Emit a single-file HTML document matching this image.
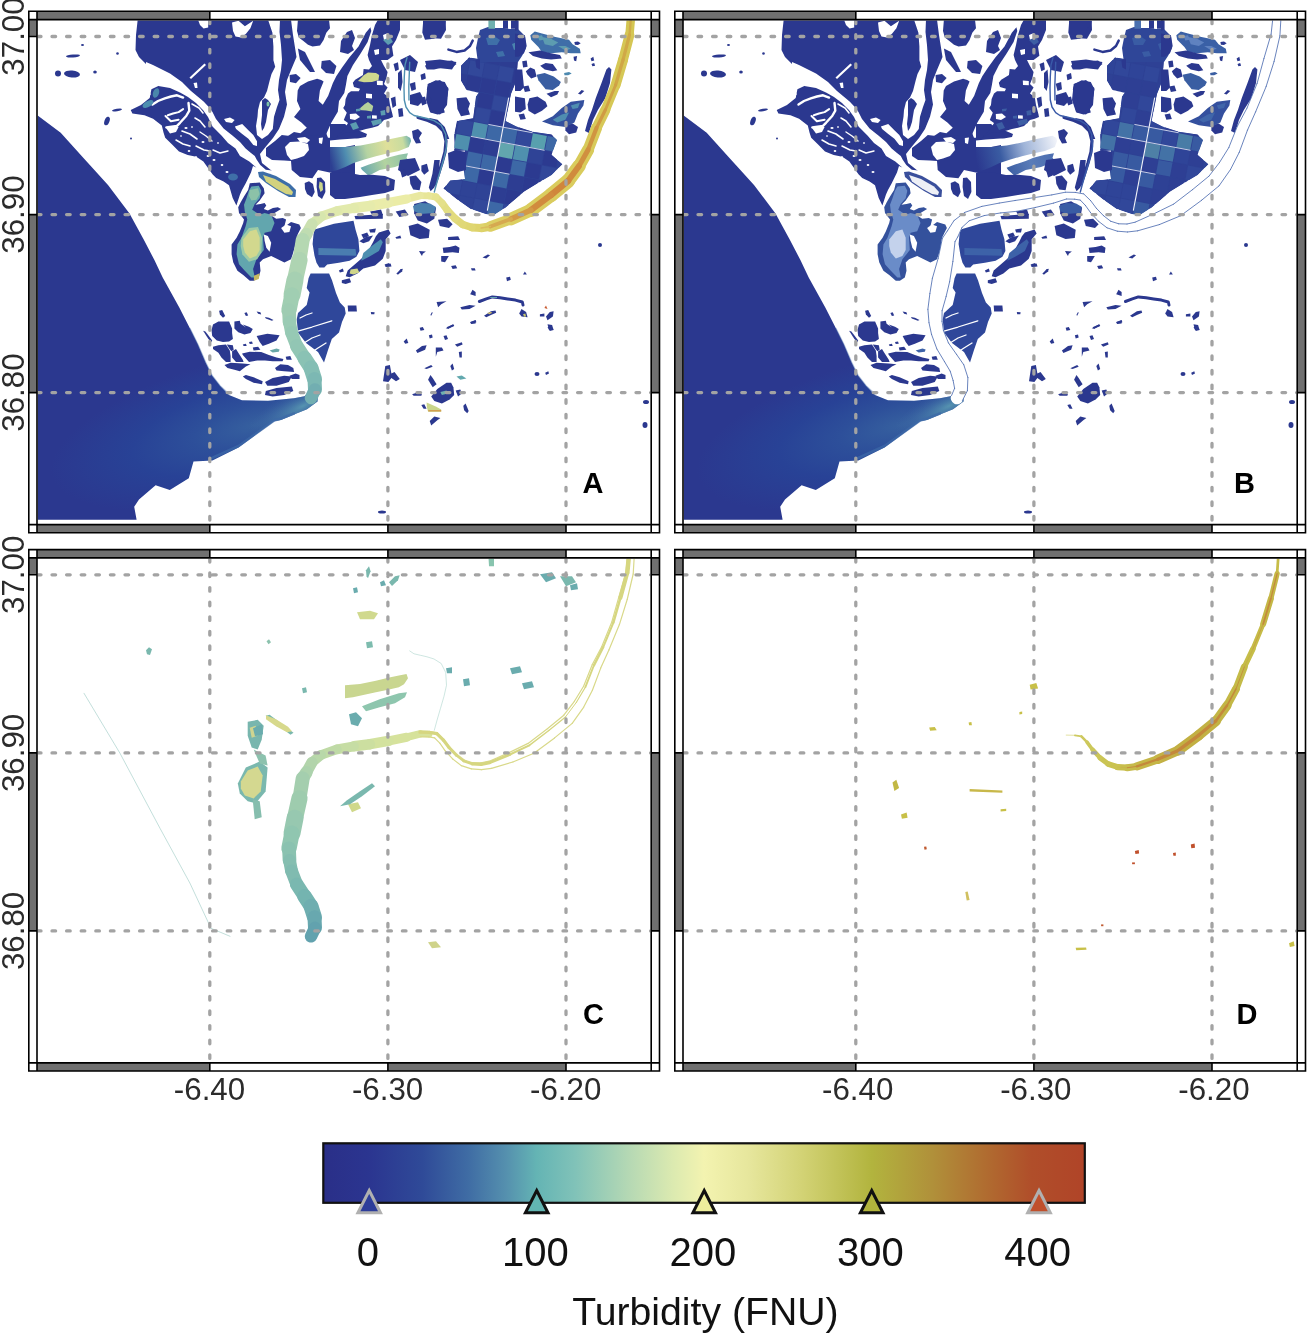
<!DOCTYPE html>
<html><head><meta charset="utf-8"><title>Turbidity maps</title>
<style>
html,body{margin:0;padding:0;background:#fff;width:1307px;height:1333px;overflow:hidden}
svg{display:block}
text{filter:grayscale(1)}
.ax{font-family:"Liberation Sans",sans-serif;font-size:31.3px;fill:#2b2b2b}
.pl{font-family:"Liberation Sans",sans-serif;font-size:29px;font-weight:bold;fill:#000}
.cbt{font-family:"Liberation Sans",sans-serif;font-size:40px;fill:#111}
</style></head><body>
<svg width="1307" height="1333" viewBox="0 0 1307 1333">
<defs>
<clipPath id="clip0_0"><rect x="37.8" y="20.4" width="612.6" height="503.4"/></clipPath>
<clipPath id="clip646_0"><rect x="683.8" y="20.4" width="612.6" height="503.4"/></clipPath>
<clipPath id="clip0_538"><rect x="37.8" y="558.7" width="612.6" height="503.4"/></clipPath>
<clipPath id="clip646_538"><rect x="683.8" y="558.7" width="612.6" height="503.4"/></clipPath>
<clipPath id="saltclip"><path d="M461.0 65.7L469.0 57.6L478.6 59.0L489.4 61.6L505.6 60.3L517.8 61.6L516.4 80.5L511.0 94.0L505.6 121.0L516.4 126.4L532.6 131.8L551.5 134.5L557.0 140.0L551.5 154.8L562.3 164.2L551.5 175.0L538.0 183.0L524.5 191.2L505.6 207.4L494.8 214.2L486.7 214.2L470.5 208.8L457.0 199.3L443.5 188.5L450.3 180.4L465.0 179.0L463.0 165.0L465.0 150.7L454.3 150.7L454.3 134.5L457.0 121.0L473.2 118.3L476.0 96.7L478.6 92.7L466.5 90.0L461.0 80.5Z"/></clipPath><linearGradient id="lstripA" gradientUnits="userSpaceOnUse" x1="330" y1="160" x2="411" y2="140"><stop offset="0" stop-color="#2d3f92"/><stop offset="0.2" stop-color="#4f8db0"/><stop offset="0.45" stop-color="#b4d3a2"/><stop offset="0.7" stop-color="#dfe09a"/><stop offset="0.9" stop-color="#c8dca0"/><stop offset="1" stop-color="#6fb0b0"/></linearGradient><linearGradient id="lstripB" gradientUnits="userSpaceOnUse" x1="330" y1="160" x2="411" y2="140"><stop offset="0" stop-color="#2b388f"/><stop offset="0.3" stop-color="#3a5ca2"/><stop offset="0.6" stop-color="#9fb4d8"/><stop offset="1" stop-color="#f2f4fa"/></linearGradient><linearGradient id="ls2A" gradientUnits="userSpaceOnUse" x1="360" y1="172" x2="410" y2="155"><stop offset="0" stop-color="#5fa2b0"/><stop offset="0.5" stop-color="#b3d3a0"/><stop offset="1" stop-color="#88c0a8"/></linearGradient><linearGradient id="ls2B" gradientUnits="userSpaceOnUse" x1="360" y1="172" x2="410" y2="155"><stop offset="0" stop-color="#3a5ca2"/><stop offset="0.5" stop-color="#5a7cb8"/><stop offset="1" stop-color="#4a6cb0"/></linearGradient><radialGradient id="plumeA" cx="0" cy="0" r="1" gradientUnits="userSpaceOnUse" gradientTransform="translate(255 425) rotate(-14) scale(210 72)"><stop offset="0" stop-color="#36609f"/><stop offset="0.3" stop-color="#2d4f9a"/><stop offset="0.6" stop-color="#284296"/><stop offset="1" stop-color="#2b388f"/></radialGradient><radialGradient id="plumeB" cx="0" cy="0" r="1" gradientUnits="userSpaceOnUse" gradientTransform="translate(255 425) rotate(-14) scale(210 72)"><stop offset="0" stop-color="#36609f"/><stop offset="0.3" stop-color="#2d4f9a"/><stop offset="0.6" stop-color="#284296"/><stop offset="1" stop-color="#2b388f"/></radialGradient><radialGradient id="mouth" cx="0" cy="0" r="1" gradientUnits="userSpaceOnUse" gradientTransform="translate(303 406) rotate(-25) scale(60 18)"><stop offset="0" stop-color="#5a9ab2" stop-opacity="0.9"/><stop offset="0.5" stop-color="#4a80ac" stop-opacity="0.45"/><stop offset="1" stop-color="#3a62a4" stop-opacity="0"/></radialGradient>
</defs>
<g clip-path="url(#clip0_0)"><g transform="translate(0 0)"><path d="M37.0 115.0L60.7 132.8L84.4 159.0L108.0 185.0L129.5 213.5L143.7 239.6L154.4 260.0L162.7 277.5L179.3 307.4L190.0 328.6L197.8 344.2L205.6 362.4L212.0 375.4L220.0 385.8L229.0 395.0L242.0 400.2L268.0 400.8L294.0 398.2L304.5 396.3L309.0 392.0L318.0 394.0L317.5 401.5L307.0 409.3L294.0 414.5L281.0 420.0L274.2 421.3L238.6 447.4L212.5 460.4L193.5 461.6L188.8 478.2L169.8 490.0L155.6 485.3L139.0 499.6L134.2 506.7L136.6 519.7L37.0 519.7Z" fill="url(#plumeA)"/>
<path d="M37.0 115.0L60.7 132.8L84.4 159.0L108.0 185.0L129.5 213.5L143.7 239.6L154.4 260.0L162.7 277.5L179.3 307.4L190.0 328.6L197.8 344.2L205.6 362.4L212.0 375.4L220.0 385.8L229.0 395.0L242.0 400.2L268.0 400.8L294.0 398.2L304.5 396.3L309.0 392.0L318.0 394.0L317.5 401.5L307.0 409.3L294.0 414.5L281.0 420.0L274.2 421.3L238.6 447.4L212.5 460.4L193.5 461.6L188.8 478.2L169.8 490.0L155.6 485.3L139.0 499.6L134.2 506.7L136.6 519.7L37.0 519.7Z" fill="url(#mouth)"/>
<path d="M190.0 328.6L197.8 344.2L205.6 362.4L212.0 375.4L220.0 385.8L229.0 394.0" fill="none" stroke="#3a62a4" stroke-width="1.4" stroke-linecap="round" stroke-linejoin="round" opacity="0.4"/>
<path d="M212.0 458.0L238.6 446.0L274.2 420.5L281.0 418.5L294.0 413.5" fill="none" stroke="#3d6aa8" stroke-width="2.5" stroke-linecap="round" stroke-linejoin="round" opacity="0.7"/>
<path d="M137.7 19.6L291.0 19.6L293.0 35.0L296.5 57.0L291.0 70.0L287.0 80.0L285.0 92.0L287.0 104.5L284.0 116.7L279.0 129.0L273.0 138.0L265.5 147.0L260.0 154.0L262.0 163.0L272.0 171.0L271.0 174.5L262.0 170.0L253.0 166.0L251.0 172.4L245.6 183.5L242.0 190.0L240.0 194.5L236.4 205.5L232.7 198.0L229.0 185.3L223.6 181.6L216.2 178.0L212.5 174.3L203.4 161.4L196.3 156.7L187.7 155.0L179.0 151.5L172.1 144.6L165.2 137.7L163.5 132.5L161.8 125.6L153.1 118.7L144.5 115.2L132.4 113.5L130.7 110.0L141.0 104.9L149.7 98.0L151.4 89.3L158.3 85.9L160.0 78.0L153.0 68.6L146.0 64.0L139.0 57.0L135.5 50.0L136.0 35.0Z" fill="#2b388f"/>
<path d="M146.0 62.0L153.0 65.0L170.0 73.5L182.0 82.0L191.0 91.0L203.6 101.6L209.0 107.2L212.5 112.0L216.0 119.0L223.6 128.4L232.7 135.7L240.0 142.0L245.6 148.6L251.0 153.0L254.8 156.0L256.6 159.6L260.3 165.0L265.8 169.7L272.2 170.6L272.0 174.0L259.4 173.4L255.7 167.0L249.3 161.4L240.0 156.0L235.5 148.6L228.0 143.0L221.7 135.7L212.5 126.5L208.0 117.0L203.0 110.0L196.0 103.0L188.0 97.0L180.0 92.5L170.0 88.0L158.3 85.9L150.0 80.0L146.0 70.0Z" fill="#fff"/>
<path d="M268.0 19.6L272.4 32.8L273.4 46.5L273.4 60.3L275.2 66.7L271.5 74.1L269.8 80.0L267.0 91.0L264.0 97.6L260.0 102.0L258.0 110.0L257.5 116.7L256.0 126.0L257.0 135.0L262.0 139.0L268.0 135.0L272.8 129.0L274.0 116.7L277.0 107.0L279.5 100.0L278.0 90.0L279.0 80.0L281.0 70.0L282.0 60.0L281.0 45.0L279.5 32.0L280.0 19.6Z" fill="#fff"/>
<path d="M262.0 100.5L265.0 98.0L268.0 100.0L271.0 104.0L268.0 110.0L267.0 116.0L266.0 122.0L264.0 128.0L262.0 131.0L261.0 124.0L262.0 115.0L262.0 107.0Z" fill="#2b388f"/>
<path d="M234.9 126.5L242.2 124.0L248.4 130.2L253.3 135.0L257.0 141.2L257.0 146.1L253.3 144.9L248.4 138.8L242.2 133.9L236.1 129.0Z" fill="#fff"/>
<path d="M198.0 19.6L208.2 19.6L208.2 27.6L203.6 28.5L200.0 25.0Z" fill="#fff"/>
<path d="M232.0 22.5L238.5 20.8L244.9 26.3L253.2 20.8L250.4 28.2L246.0 33.7L241.0 37.4L235.5 36.5L233.0 31.0Z" fill="#fff"/>
<path d="M204.5 63.5L206.0 65.0L191.0 79.0L189.5 77.5Z" fill="#fff"/>
<path d="M193.5 83.0L197.0 82.5L197.5 88.0L195.0 88.0Z" fill="#fff"/>
<path d="M224.0 119.0L230.0 117.5L234.6 120.0L232.0 123.0L226.0 122.0Z" fill="#fff"/>
<path d="M152.5 104.5L158.0 101.0L164.8 98.4L171.0 96.5L177.0 95.3L183.1 97.6" fill="none" stroke="#fff" stroke-width="2.4" stroke-linecap="round" stroke-linejoin="round"/>
<path d="M167.8 115.2L173.0 113.5L178.6 112.1L183.1 109.1" fill="none" stroke="#fff" stroke-width="2.0" stroke-linecap="round" stroke-linejoin="round"/>
<path d="M165.5 116.0L170.9 121.3L178.6 119.8" fill="none" stroke="#fff" stroke-width="2.0" stroke-linecap="round" stroke-linejoin="round"/>
<path d="M188.5 103.0L189.3 110.6L186.2 116.0L180.0 122.8L177.0 125.9L166.3 127.4" fill="none" stroke="#fff" stroke-width="2.4" stroke-linecap="round" stroke-linejoin="round"/>
<path d="M192.0 104.0L199.0 108.0L203.0 113.0" fill="none" stroke="#fff" stroke-width="1.6" stroke-linecap="round" stroke-linejoin="round"/>
<path d="M141.0 103.0L146.0 99.0L150.0 94.0" fill="none" stroke="#fff" stroke-width="1.5" stroke-linecap="round" stroke-linejoin="round"/>
<path d="M195.0 118.0L200.0 121.0L205.0 127.0" fill="none" stroke="#fff" stroke-width="1.6" stroke-linecap="round" stroke-linejoin="round"/>
<path d="M182.0 131.0L190.0 134.0L197.0 139.0" fill="none" stroke="#fff" stroke-width="1.6" stroke-linecap="round" stroke-linejoin="round"/>
<path d="M176.0 140.0L183.0 144.0L190.0 146.0" fill="none" stroke="#fff" stroke-width="1.5" stroke-linecap="round" stroke-linejoin="round"/>
<path d="M196.0 146.0L204.0 150.0L210.0 151.0" fill="none" stroke="#fff" stroke-width="1.5" stroke-linecap="round" stroke-linejoin="round"/>
<path d="M200.0 132.0L206.0 136.0L212.0 141.0" fill="none" stroke="#fff" stroke-width="1.4" stroke-linecap="round" stroke-linejoin="round"/>
<path d="M213.0 150.0L220.0 153.0L228.0 151.0" fill="none" stroke="#fff" stroke-width="1.4" stroke-linecap="round" stroke-linejoin="round"/>
<path d="M166.0 128.0L172.0 126.0L178.6 127.0L176.0 132.0L170.0 133.6Z" fill="#fff"/>
<ellipse cx="186" cy="128" rx="1.6" ry="1" fill="#fff"/>
<ellipse cx="192" cy="127" rx="1.2" ry="0.8" fill="#fff"/>
<ellipse cx="203" cy="142" rx="1.5" ry="1" fill="#fff"/>
<ellipse cx="189" cy="151" rx="1.3" ry="0.9" fill="#fff"/>
<ellipse cx="181" cy="136" rx="1" ry="0.8" fill="#fff"/>
<ellipse cx="208" cy="156" rx="1.4" ry="1" fill="#fff"/>
<ellipse cx="196" cy="157" rx="1.2" ry="0.8" fill="#fff"/>
<ellipse cx="214" cy="160" rx="1.5" ry="1" fill="#fff"/>
<ellipse cx="222" cy="165" rx="1.3" ry="1" fill="#fff"/>
<ellipse cx="227" cy="172" rx="1.5" ry="1" fill="#fff"/>
<ellipse cx="218" cy="143" rx="1.2" ry="0.8" fill="#fff"/>
<ellipse cx="173" cy="131" rx="1" ry="0.8" fill="#fff"/>
<ellipse cx="148" cy="104" rx="6" ry="3" fill="#4d8fb0" transform="rotate(-30 148 104)"/>
<ellipse cx="156" cy="93" rx="3" ry="5" fill="#4a86ab" transform="rotate(20 156 93)"/>
<ellipse cx="233" cy="177" rx="5" ry="3.5" fill="#3f6fa8"/>
<ellipse cx="268" cy="104" rx="1.5" ry="2.5" fill="#7cc0a8"/>
<path d="M297.9 19.6L329.0 19.6L330.0 28.2L326.3 32.8L323.6 40.1L320.0 45.6L312.5 46.5L308.0 44.7L303.4 41.0L298.8 37.4L297.0 31.0Z" fill="#2b388f"/>
<path d="M297.9 48.4L305.0 52.0L315.0 72.0L310.0 72.0L300.0 60.0Z" fill="#2b388f"/>
<path d="M321.7 61.0L330.0 60.0L336.4 66.0L334.0 74.0L326.0 73.0L321.0 68.0Z" fill="#2b388f"/>
<path d="M341.0 41.0L347.0 32.0L352.0 30.0L355.0 38.0L352.0 46.0L354.0 50.0L348.0 54.0L340.0 52.0Z" fill="#2b388f"/>
<path d="M289.6 75.0L296.0 74.0L300.6 78.0L296.0 83.3L290.0 82.0Z" fill="#2b388f"/>
<path d="M370.4 27.3L371.3 30.9L367.6 42.0L360.3 53.9L353.0 64.9L347.4 75.9L345.9 85.0L344.3 93.0L339.0 101.0L337.8 111.8L331.4 122.5L326.6 133.2L325.5 138.6L318.0 140.0L310.0 142.0L300.0 140.0L290.0 143.0L281.0 145.0L283.2 138.6L288.0 135.9L294.0 132.0L300.4 133.2L306.8 127.8L301.4 122.5L294.0 117.0L300.4 109.0L297.0 101.0L297.7 90.4L300.0 86.0L308.0 81.4L317.1 78.7L321.2 80.0L323.6 81.4L319.9 90.6L318.6 101.0L322.8 104.8L328.2 95.7L332.8 83.3L336.4 75.9L341.9 67.7L349.3 57.6L358.5 46.5L365.8 32.8Z" fill="#2b388f"/>
<path d="M330.0 124.0L345.0 124.0L350.0 128.0L360.0 131.0L367.0 134.0L366.0 137.0L355.0 139.0L345.0 140.0L337.0 141.5L330.0 141.5Z" fill="#2b388f"/>
<path d="M378.0 19.6L400.0 19.6L400.0 30.0L396.0 40.0L392.0 46.5L393.4 55.7L387.6 60.0L381.0 60.0L384.0 66.0L387.6 72.0L386.4 78.0L384.0 84.0L387.6 87.6L384.0 93.6L388.8 97.2L390.0 105.0L392.4 114.0L393.0 117.0L388.8 118.8L384.0 120.0L381.0 123.0L378.0 126.0L372.0 127.8L366.0 129.0L360.0 130.8L354.0 132.0L348.0 132.0L345.0 138.0L336.0 140.0L337.8 135.0L342.0 132.0L345.6 127.2L348.0 123.0L343.8 120.0L345.0 117.0L346.8 112.8L343.2 108.0L345.0 105.0L345.6 99.0L348.0 93.6L351.0 91.2L358.8 91.2L360.0 88.8L354.0 87.0L352.8 82.8L355.2 79.8L363.0 75.0L363.6 69.0L369.0 69.6L372.0 66.0L369.0 60.0L367.6 55.0L370.0 45.0L372.0 35.0L375.0 25.0Z" fill="#2b388f"/>
<path d="M366.0 93.6L372.0 94.0L372.0 98.4L366.0 98.0Z" fill="#fff"/>
<path d="M376.8 80.4L382.8 81.0L382.8 85.2L377.0 85.0Z" fill="#fff"/>
<path d="M372.0 115.2L376.8 115.5L376.8 118.8L372.0 118.5Z" fill="#fff"/>
<path d="M349.8 114.0L356.0 113.5L360.0 117.0L355.0 120.0L350.0 119.0Z" fill="#fff"/>
<path d="M383.0 35.0L388.0 33.0L389.0 39.0L384.0 40.0Z" fill="#fff"/>
<path d="M374.0 50.0L379.0 49.0L379.0 54.0L375.0 55.0Z" fill="#fff"/>
<path d="M358.0 81.0L364.0 75.0L368.0 72.5L376.0 73.0L379.2 75.0L378.5 80.0L372.0 82.0L364.0 82.2Z" fill="#cfd98e"/>
<path d="M358.0 110.0L364.8 104.0L368.0 102.0L373.2 106.0L372.0 111.6L366.0 110.5Z" fill="#b5d09a"/>
<path d="M383.0 40.0L390.0 37.0L393.0 42.0L388.0 45.0Z" fill="#5c9db0"/>
<path d="M350.0 124.0L356.0 122.0L359.0 128.0L353.0 130.0Z" fill="#5c9db0"/>
<path d="M371.0 121.0L381.0 118.8L382.0 123.0L373.0 126.0Z" fill="#5c9db0"/>
<path d="M380.4 111.0L385.0 110.0L385.5 115.0L381.0 115.5Z" fill="#5c9db0"/>
<path d="M356.0 109.0L361.0 108.5L360.0 111.0L356.0 111.5Z" fill="#5c9db0"/>
<path d="M367.0 116.0L371.0 115.5L371.0 118.5L367.0 118.5Z" fill="#5c9db0"/>
<path d="M275.0 141.0L281.8 135.0L290.0 136.0L300.0 135.0L312.0 136.0L326.0 133.0L328.0 137.7L336.0 137.7L345.0 133.0L355.0 132.0L355.0 178.0L345.0 178.0L332.0 173.0L318.0 170.0L312.4 178.2L300.0 177.0L291.7 170.0L291.0 161.0L284.0 160.6L272.0 160.0L266.0 156.0L266.0 148.0Z" fill="#2b388f"/>
<path d="M285.0 147.0L290.0 142.0L300.0 141.5L308.0 144.0L309.0 150.0L304.0 156.0L297.0 158.5L291.0 160.0L287.0 155.0Z" fill="#fff"/>
<path d="M297.0 138.0L305.0 137.0L310.0 140.0L307.0 143.0L300.0 142.0Z" fill="#fff"/>
<path d="M318.8 138.0L323.0 137.5L322.0 144.0L319.0 143.0Z" fill="#fff"/>
<path d="M330.0 140.5L340.0 139.5L355.0 138.5L368.0 140.2L366.7 143.0L355.0 145.0L345.3 147.0L330.0 147.5Z" fill="#fff"/>
<path d="M330.0 147.1L345.3 147.1L360.6 145.6L375.9 142.5L388.1 139.5L398.9 137.2L406.5 135.7L410.3 138.0L411.1 141.0L408.8 147.1L398.9 151.0L388.1 153.3L375.9 156.3L364.4 159.4L353.0 163.2L345.3 167.0L337.7 170.1L330.0 171.6Z" fill="url(#lstripA)"/>
<path d="M360.6 167.8L368.3 164.7L379.7 160.9L387.4 157.8L398.9 154.8L408.0 153.3L406.5 157.8L410.3 162.4L402.7 164.0L395.0 167.0L387.4 168.6L379.7 170.1L372.0 173.9L368.3 175.4L362.1 170.1Z" fill="url(#ls2A)"/>
<path d="M330.0 173.0L345.0 172.0L360.0 175.0L372.0 174.7L385.0 176.0L395.0 180.0L394.0 190.0L385.0 193.0L372.0 195.0L360.0 197.0L345.0 199.0L335.0 199.0L330.0 195.0Z" fill="#2b388f"/>
<path d="M258.0 172.0L263.0 171.5L276.0 176.0L290.0 184.0L296.0 190.0L295.5 197.0L289.0 197.0L278.0 191.0L266.0 183.0L259.0 177.0Z" fill="#3d6ea8"/>
<path d="M263.0 175.0L275.0 179.0L288.0 186.5L293.0 192.0L292.0 195.0L286.0 194.0L276.0 188.5L266.0 181.5Z" fill="#d2d27e"/>
<path d="M317.0 178.0L321.0 177.4L325.0 182.0L325.4 192.0L322.0 198.9L318.0 196.0L316.6 187.0Z" fill="#2b388f"/>
<path d="M304.7 183.0L309.0 181.3L313.0 184.0L314.7 192.0L312.0 197.3L307.0 194.0L305.0 189.0Z" fill="#2b388f"/>
<path d="M319.5 181.5L322.5 183.0L323.0 190.0L320.5 192.0L318.8 187.0Z" fill="#c9d58a"/>
<path d="M249.8 183.3L259.7 182.5L263.8 188.3L264.6 193.2L259.7 200.6L255.5 204.8L260.5 203.9L264.6 203.1L266.3 205.6L263.8 208.9L267.9 210.5L272.9 208.1L277.8 207.2L281.1 208.9L274.5 213.0L271.2 215.5L276.2 218.8L282.8 218.0L286.1 219.6L284.4 226.2L281.1 229.5L287.7 224.6L291.0 222.1L299.3 224.6L300.9 227.9L297.6 234.5L296.0 242.7L292.7 254.3L291.0 259.2L284.4 262.5L277.8 259.2L271.2 255.9L263.0 259.2L259.7 262.5L260.5 270.8L258.8 277.4L253.9 280.7L249.8 280.7L243.2 274.9L237.4 270.8L233.3 262.5L231.6 254.3L231.6 244.4L236.6 237.8L239.9 231.2L243.2 222.9L244.0 219.6L239.0 213.0L238.2 207.2L240.7 202.3L244.0 196.5L248.1 189.9Z" fill="#2b388f"/>
<path d="M251.4 186.6L258.8 185.8L261.3 190.7L259.7 198.2L254.7 203.9L252.2 209.7L259.7 214.7L264.6 213.0L271.2 214.7L274.5 222.9L271.2 231.2L264.6 232.8L263.0 237.8L263.8 250.1L260.5 254.3L256.4 259.2L253.1 269.1L254.7 277.4L251.4 277.4L244.8 270.8L239.0 264.2L236.6 254.3L237.4 244.4L241.5 237.8L245.6 226.2L247.3 219.6L244.8 211.4L244.0 204.8L246.5 198.2L248.9 190.7Z" fill="#62a6ae"/>
<path d="M241.5 237.8L248.9 227.9L258.0 227.0L262.1 237.8L261.3 252.6L257.2 259.2L248.9 261.7L242.3 254.3L240.7 246.0Z" fill="#9ccaa6"/>
<path d="M249.8 189.9L258.0 188.3L259.7 194.0L256.4 199.8L251.4 200.6L248.9 195.7Z" fill="#8cc2a8"/>
<path d="M243.2 239.4L249.8 231.2L256.4 229.5L259.7 237.8L259.7 250.1L256.4 255.9L249.8 258.4L244.8 252.6L243.2 246.0Z" fill="#d2d88e"/>
<path d="M253.9 275.7L259.7 273.2L258.8 279.0L253.9 280.7Z" fill="#c8b860"/>
<path d="M263.8 234.5L267.9 236.1L271.2 242.7L269.6 251.8L266.3 247.7L264.6 241.1Z" fill="#fff"/>
<path d="M281.1 227.9L286.1 224.6L291.0 226.2L289.4 232.0L284.4 232.8Z" fill="#fff"/>
<path d="M314.5 229.5L334.0 223.7L353.5 220.7L355.5 229.5L358.4 239.3L359.4 251.0L356.4 256.8L349.6 260.7L338.9 262.7L327.2 264.6L324.3 267.5L319.4 267.5L316.5 262.7L314.5 255.8L312.6 244.1L313.5 234.4Z" fill="#2f479a"/>
<path d="M318.4 248.0L355.5 249.0L356.4 255.8L318.4 254.9Z" fill="#4a7db0"/>
<path d="M378.9 232.4L388.6 229.5L390.6 233.4L385.7 239.3L385.7 251.0L382.8 258.8L375.0 265.6L363.3 268.5L357.4 273.4L349.6 277.3L345.7 276.3L347.7 270.5L353.5 265.6L361.3 258.8L368.1 251.0L373.0 242.2L375.9 236.3Z" fill="#2b388f"/>
<path d="M363.3 252.9L373.0 245.1L380.8 239.3L382.8 242.2L378.9 251.0L369.1 256.8L361.3 260.7Z" fill="#4d8fb0"/>
<path d="M350.6 269.5L357.4 268.5L359.4 272.4L353.5 274.4L349.6 273.4Z" fill="#d0d68a"/>
<path d="M359.4 241.2L365.2 237.3L373.0 235.4L369.1 241.2L363.3 243.2Z" fill="#2b388f"/>
<path d="M361.3 234.4L367.2 232.4L369.1 236.3L363.3 238.3Z" fill="#2b388f"/>
<path d="M369.1 229.5L375.9 228.5L375.0 232.4L370.1 232.4Z" fill="#2b388f"/>
<path d="M341.8 280.2L349.6 278.3L351.1 282.2L345.7 284.1L341.8 283.1Z" fill="#2b388f"/>
<path d="M347.7 305.6L356.4 305.6L356.9 311.4L348.1 311.4Z" fill="#2b388f"/>
<path d="M338.9 270.5L342.8 268.5L343.8 271.4L339.9 272.4Z" fill="#2b388f"/>
<path d="M395.4 237.3L400.3 235.4L401.3 238.3L396.4 238.8Z" fill="#2b388f"/>
<path d="M384.7 265.6L390.6 263.6L391.5 266.6L385.7 267.0Z" fill="#2b388f"/>
<path d="M396.4 273.4L402.3 268.5L402.3 271.4L397.4 274.4Z" fill="#2b388f"/>
<path d="M354.5 215.9L382.8 213.9L382.8 218.8L355.5 219.3Z" fill="#2b388f"/>
<path d="M310.6 273.4L329.1 273.4L332.0 280.2L336.0 292.9L339.9 302.6L344.7 307.5L345.7 313.4L342.0 322.0L339.0 332.5L331.8 339.0L328.0 350.0L324.0 362.4L318.0 352.0L306.0 343.0L298.0 332.5L296.7 319.5L298.0 313.0L306.7 305.0L309.6 292.6L306.7 288.0L308.6 278.0Z" fill="#2f479a"/>
<path d="M298.0 331.0L312.0 327.0L331.8 320.8" fill="none" stroke="#fff" stroke-width="1.3" stroke-linecap="round" stroke-linejoin="round"/>
<path d="M304.0 343.0L312.0 338.0L320.0 335.0" fill="none" stroke="#fff" stroke-width="1.3" stroke-linecap="round" stroke-linejoin="round"/>
<path d="M312.0 352.0L318.0 348.0L326.0 343.0" fill="none" stroke="#fff" stroke-width="1.3" stroke-linecap="round" stroke-linejoin="round"/>
<path d="M300.0 318.0L306.0 315.0L312.0 313.0" fill="none" stroke="#fff" stroke-width="1.3" stroke-linecap="round" stroke-linejoin="round"/>
<path d="M213.0 324.5L218.4 321.5L229.1 321.5L232.1 328.4L232.1 333.0L232.9 339.1L229.1 341.4L223.0 342.1L216.8 340.6L212.2 336.0L211.5 329.9Z" fill="#2b388f"/>
<path d="M234.4 321.5L239.8 320.7L240.6 323.8L245.9 327.6L242.8 324.5L249.0 326.8L252.8 329.1L250.5 333.0L244.4 334.5L238.3 332.2L234.4 328.4Z" fill="#2b388f"/>
<path d="M203.1 330.7L205.4 331.4L212.2 340.6L211.5 342.1L208.4 339.1Z" fill="#2b388f"/>
<path d="M213.0 346.7L218.4 345.2L226.0 344.4L229.8 350.6L230.6 355.9L230.6 362.0L226.0 362.0L221.4 357.4L218.4 352.8L213.0 349.0Z" fill="#2b388f"/>
<path d="M226.8 344.4L232.9 345.2L233.7 349.8L231.4 351.3L229.1 348.3Z" fill="#2b388f"/>
<path d="M232.1 351.3L236.0 349.0L238.3 352.8L242.8 359.7L243.6 362.0L236.0 362.0L232.1 357.4Z" fill="#2b388f"/>
<path d="M242.1 353.6L249.7 351.7L261.2 352.1L268.9 355.1L276.5 357.4L283.4 359.0L282.6 361.3L272.7 361.3L265.0 360.5L257.4 360.5L249.0 362.0L242.8 355.1Z" fill="#2b388f"/>
<path d="M256.6 336.0L267.3 333.7L279.6 335.2L276.5 340.6L268.9 343.7L262.7 346.0L259.7 342.1Z" fill="#2b388f"/>
<path d="M224.5 365.1L230.6 362.8L242.8 363.6L250.5 364.3L245.9 366.6L239.8 371.2L234.4 369.7L227.5 368.1Z" fill="#2b388f"/>
<path d="M242.8 376.6L245.9 375.0L253.6 377.3L262.7 381.2L262.0 384.2L253.6 382.7L245.9 378.9Z" fill="#2b388f"/>
<path d="M265.0 381.9L272.7 378.1L284.2 375.8L291.8 376.6L288.8 381.9L276.5 385.7L267.3 385.7Z" fill="#2b388f"/>
<path d="M265.8 391.1L276.5 388.0L291.8 386.5L293.3 391.1L284.2 394.9L272.7 396.5L265.0 394.9Z" fill="#2b388f"/>
<path d="M275.0 368.1L280.3 364.3L288.0 365.1L293.3 368.1L294.1 372.0L284.2 371.2L276.5 370.4Z" fill="#2b388f"/>
<path d="M289.5 375.8L295.6 373.5L299.5 375.0L299.5 378.9L291.8 378.9Z" fill="#2b388f"/>
<path d="M219.1 310.8L222.2 310.0L225.2 316.1L223.0 317.7L219.9 314.6Z" fill="#2b388f"/>
<path d="M244.4 313.1L246.7 312.3L248.2 315.4L245.9 316.1Z" fill="#2b388f"/>
<path d="M285.7 356.7L290.3 355.9L291.8 359.7L286.5 359.7Z" fill="#2b388f"/>
<path d="M252.8 347.5L258.1 346.7L260.4 349.8L253.6 350.6Z" fill="#2b388f"/>
<path d="M265.0 316.9L268.9 317.7L273.5 319.9L271.9 320.7L265.8 318.4Z" fill="#2b388f"/>
<path d="M256.6 311.5L260.4 312.3L261.2 314.6L258.1 313.8Z" fill="#2b388f"/>
<path d="M249.0 342.1L252.0 341.4L252.8 343.7L249.7 344.0Z" fill="#2b388f"/>
<path d="M242.8 344.4L245.9 343.7L246.7 346.0L243.6 346.0Z" fill="#2b388f"/>
<path d="M269.6 350.6L276.5 348.6L279.6 349.4L278.8 351.7L272.7 352.5Z" fill="#6aa8a8"/>
<g clip-path="url(#saltclip)"><path d="M461.0 65.7L469.0 57.6L478.6 59.0L489.4 61.6L505.6 60.3L517.8 61.6L516.4 80.5L511.0 94.0L505.6 121.0L516.4 126.4L532.6 131.8L551.5 134.5L557.0 140.0L551.5 154.8L562.3 164.2L551.5 175.0L538.0 183.0L524.5 191.2L505.6 207.4L494.8 214.2L486.7 214.2L470.5 208.8L457.0 199.3L443.5 188.5L450.3 180.4L465.0 179.0L463.0 165.0L465.0 150.7L454.3 150.7L454.3 134.5L457.0 121.0L473.2 118.3L476.0 96.7L478.6 92.7L466.5 90.0L461.0 80.5Z" fill="#2e4194"/>
<g transform="translate(489.2 200.9) rotate(10.7)">
<rect x="-74.6" y="-164.6" width="14.2" height="14.2" fill="#32489a"/>
<rect x="-74.6" y="-149.6" width="14.2" height="14.2" fill="#2f4396"/>
<rect x="-74.6" y="-134.6" width="14.2" height="14.2" fill="#2c3a90"/>
<rect x="-74.6" y="-119.6" width="14.2" height="14.2" fill="#2d3d92"/>
<rect x="-74.6" y="-104.6" width="14.2" height="14.2" fill="#2d3d92"/>
<rect x="-74.6" y="-89.6" width="14.2" height="14.2" fill="#2d3d92"/>
<rect x="-74.6" y="-74.6" width="14.2" height="14.2" fill="#32489a"/>
<rect x="-74.6" y="-59.6" width="14.2" height="14.2" fill="#2d3d92"/>
<rect x="-74.6" y="-44.6" width="14.2" height="14.2" fill="#2f4396"/>
<rect x="-74.6" y="-29.6" width="14.2" height="14.2" fill="#2d3d92"/>
<rect x="-74.6" y="-14.6" width="14.2" height="14.2" fill="#2d3d92"/>
<rect x="-74.6" y="0.4" width="14.2" height="14.2" fill="#2c3a90"/>
<rect x="-59.6" y="-164.6" width="14.2" height="14.2" fill="#2c3a90"/>
<rect x="-59.6" y="-149.6" width="14.2" height="14.2" fill="#2d3d92"/>
<rect x="-59.6" y="-134.6" width="14.2" height="14.2" fill="#2f4396"/>
<rect x="-59.6" y="-119.6" width="14.2" height="14.2" fill="#2d3d92"/>
<rect x="-59.6" y="-104.6" width="14.2" height="14.2" fill="#2c3a90"/>
<rect x="-59.6" y="-89.6" width="14.2" height="14.2" fill="#2d3d92"/>
<rect x="-59.6" y="-74.6" width="14.2" height="14.2" fill="#2d3d92"/>
<rect x="-59.6" y="-59.6" width="14.2" height="14.2" fill="#2f4396"/>
<rect x="-59.6" y="-44.6" width="14.2" height="14.2" fill="#2d3d92"/>
<rect x="-59.6" y="-29.6" width="14.2" height="14.2" fill="#2c3a90"/>
<rect x="-59.6" y="-14.6" width="14.2" height="14.2" fill="#2d3d92"/>
<rect x="-59.6" y="0.4" width="14.2" height="14.2" fill="#2f4396"/>
<rect x="-44.6" y="-164.6" width="14.2" height="14.2" fill="#2d3d92"/>
<rect x="-44.6" y="-149.6" width="14.2" height="14.2" fill="#2f4396"/>
<rect x="-44.6" y="-134.6" width="14.2" height="14.2" fill="#32489a"/>
<rect x="-44.6" y="-119.6" width="14.2" height="14.2" fill="#2c3a90"/>
<rect x="-44.6" y="-104.6" width="14.2" height="14.2" fill="#2f4396"/>
<rect x="-44.6" y="-89.6" width="14.2" height="14.2" fill="#2d3d92"/>
<rect x="-44.6" y="-74.6" width="14.2" height="14.2" fill="#32489a"/>
<rect x="-44.6" y="-59.6" width="14.2" height="14.2" fill="#4f90ae"/>
<rect x="-44.6" y="-44.6" width="14.2" height="14.2" fill="#2d3d92"/>
<rect x="-44.6" y="-29.6" width="14.2" height="14.2" fill="#2f4396"/>
<rect x="-44.6" y="-14.6" width="14.2" height="14.2" fill="#32489a"/>
<rect x="-44.6" y="0.4" width="14.2" height="14.2" fill="#2d3d92"/>
<rect x="-29.6" y="-164.6" width="14.2" height="14.2" fill="#2d3d92"/>
<rect x="-29.6" y="-149.6" width="14.2" height="14.2" fill="#2d3d92"/>
<rect x="-29.6" y="-134.6" width="14.2" height="14.2" fill="#2f4396"/>
<rect x="-29.6" y="-119.6" width="14.2" height="14.2" fill="#2c3a90"/>
<rect x="-29.6" y="-104.6" width="14.2" height="14.2" fill="#2c3a90"/>
<rect x="-29.6" y="-89.6" width="14.2" height="14.2" fill="#32489a"/>
<rect x="-29.6" y="-74.6" width="14.2" height="14.2" fill="#4f90ae"/>
<rect x="-29.6" y="-59.6" width="14.2" height="14.2" fill="#2c3a90"/>
<rect x="-29.6" y="-44.6" width="14.2" height="14.2" fill="#3d68a6"/>
<rect x="-29.6" y="-29.6" width="14.2" height="14.2" fill="#3d68a6"/>
<rect x="-29.6" y="-14.6" width="14.2" height="14.2" fill="#2f4396"/>
<rect x="-29.6" y="0.4" width="14.2" height="14.2" fill="#2f4396"/>
<rect x="-14.6" y="-164.6" width="14.2" height="14.2" fill="#2f4396"/>
<rect x="-14.6" y="-149.6" width="14.2" height="14.2" fill="#2d3d92"/>
<rect x="-14.6" y="-134.6" width="14.2" height="14.2" fill="#32489a"/>
<rect x="-14.6" y="-119.6" width="14.2" height="14.2" fill="#2c3a90"/>
<rect x="-14.6" y="-104.6" width="14.2" height="14.2" fill="#32489a"/>
<rect x="-14.6" y="-89.6" width="14.2" height="14.2" fill="#2c3a90"/>
<rect x="-14.6" y="-74.6" width="14.2" height="14.2" fill="#3d68a6"/>
<rect x="-14.6" y="-59.6" width="14.2" height="14.2" fill="#2d3d92"/>
<rect x="-14.6" y="-44.6" width="14.2" height="14.2" fill="#3d68a6"/>
<rect x="-14.6" y="-29.6" width="14.2" height="14.2" fill="#2c3a90"/>
<rect x="-14.6" y="-14.6" width="14.2" height="14.2" fill="#2f4396"/>
<rect x="-14.6" y="0.4" width="14.2" height="14.2" fill="#32489a"/>
<rect x="0.4" y="-164.6" width="14.2" height="14.2" fill="#2f4396"/>
<rect x="0.4" y="-149.6" width="14.2" height="14.2" fill="#2c3a90"/>
<rect x="0.4" y="-134.6" width="14.2" height="14.2" fill="#2c3a90"/>
<rect x="0.4" y="-119.6" width="14.2" height="14.2" fill="#2d3d92"/>
<rect x="0.4" y="-104.6" width="14.2" height="14.2" fill="#2d3d92"/>
<rect x="0.4" y="-89.6" width="14.2" height="14.2" fill="#32489a"/>
<rect x="0.4" y="-74.6" width="14.2" height="14.2" fill="#3d68a6"/>
<rect x="0.4" y="-59.6" width="14.2" height="14.2" fill="#62a6ae"/>
<rect x="0.4" y="-44.6" width="14.2" height="14.2" fill="#2c3a90"/>
<rect x="0.4" y="-29.6" width="14.2" height="14.2" fill="#3d68a6"/>
<rect x="0.4" y="-14.6" width="14.2" height="14.2" fill="#2d3d92"/>
<rect x="0.4" y="0.4" width="14.2" height="14.2" fill="#3d68a6"/>
<rect x="15.4" y="-164.6" width="14.2" height="14.2" fill="#32489a"/>
<rect x="15.4" y="-149.6" width="14.2" height="14.2" fill="#2c3a90"/>
<rect x="15.4" y="-134.6" width="14.2" height="14.2" fill="#2d3d92"/>
<rect x="15.4" y="-119.6" width="14.2" height="14.2" fill="#2d3d92"/>
<rect x="15.4" y="-104.6" width="14.2" height="14.2" fill="#32489a"/>
<rect x="15.4" y="-89.6" width="14.2" height="14.2" fill="#2c3a90"/>
<rect x="15.4" y="-74.6" width="14.2" height="14.2" fill="#32489a"/>
<rect x="15.4" y="-59.6" width="14.2" height="14.2" fill="#4f90ae"/>
<rect x="15.4" y="-44.6" width="14.2" height="14.2" fill="#3d68a6"/>
<rect x="15.4" y="-29.6" width="14.2" height="14.2" fill="#2d3d92"/>
<rect x="15.4" y="-14.6" width="14.2" height="14.2" fill="#2c3a90"/>
<rect x="15.4" y="0.4" width="14.2" height="14.2" fill="#32489a"/>
<rect x="30.4" y="-164.6" width="14.2" height="14.2" fill="#2f4396"/>
<rect x="30.4" y="-149.6" width="14.2" height="14.2" fill="#2d3d92"/>
<rect x="30.4" y="-134.6" width="14.2" height="14.2" fill="#2c3a90"/>
<rect x="30.4" y="-119.6" width="14.2" height="14.2" fill="#2d3d92"/>
<rect x="30.4" y="-104.6" width="14.2" height="14.2" fill="#2f4396"/>
<rect x="30.4" y="-89.6" width="14.2" height="14.2" fill="#32489a"/>
<rect x="30.4" y="-74.6" width="14.2" height="14.2" fill="#58a0ae"/>
<rect x="30.4" y="-59.6" width="14.2" height="14.2" fill="#2f4396"/>
<rect x="30.4" y="-44.6" width="14.2" height="14.2" fill="#2c3a90"/>
<rect x="30.4" y="-29.6" width="14.2" height="14.2" fill="#2c3a90"/>
<rect x="30.4" y="-14.6" width="14.2" height="14.2" fill="#2c3a90"/>
<rect x="30.4" y="0.4" width="14.2" height="14.2" fill="#2d3d92"/>
<rect x="45.4" y="-164.6" width="14.2" height="14.2" fill="#2f4396"/>
<rect x="45.4" y="-149.6" width="14.2" height="14.2" fill="#2c3a90"/>
<rect x="45.4" y="-134.6" width="14.2" height="14.2" fill="#2c3a90"/>
<rect x="45.4" y="-119.6" width="14.2" height="14.2" fill="#32489a"/>
<rect x="45.4" y="-104.6" width="14.2" height="14.2" fill="#2f4396"/>
<rect x="45.4" y="-89.6" width="14.2" height="14.2" fill="#2c3a90"/>
<rect x="45.4" y="-74.6" width="14.2" height="14.2" fill="#3d68a6"/>
<rect x="45.4" y="-59.6" width="14.2" height="14.2" fill="#2c3a90"/>
<rect x="45.4" y="-44.6" width="14.2" height="14.2" fill="#32489a"/>
<rect x="45.4" y="-29.6" width="14.2" height="14.2" fill="#2c3a90"/>
<rect x="45.4" y="-14.6" width="14.2" height="14.2" fill="#2f4396"/>
<rect x="45.4" y="0.4" width="14.2" height="14.2" fill="#2f4396"/>
<rect x="60.4" y="-164.6" width="14.2" height="14.2" fill="#2d3d92"/>
<rect x="60.4" y="-149.6" width="14.2" height="14.2" fill="#2f4396"/>
<rect x="60.4" y="-134.6" width="14.2" height="14.2" fill="#2f4396"/>
<rect x="60.4" y="-119.6" width="14.2" height="14.2" fill="#2f4396"/>
<rect x="60.4" y="-104.6" width="14.2" height="14.2" fill="#2f4396"/>
<rect x="60.4" y="-89.6" width="14.2" height="14.2" fill="#2d3d92"/>
<rect x="60.4" y="-74.6" width="14.2" height="14.2" fill="#2c3a90"/>
<rect x="60.4" y="-59.6" width="14.2" height="14.2" fill="#2f4396"/>
<rect x="60.4" y="-44.6" width="14.2" height="14.2" fill="#32489a"/>
<rect x="60.4" y="-29.6" width="14.2" height="14.2" fill="#32489a"/>
<rect x="60.4" y="-14.6" width="14.2" height="14.2" fill="#2d3d92"/>
<rect x="60.4" y="0.4" width="14.2" height="14.2" fill="#2f4396"/>
<rect x="75.4" y="-164.6" width="14.2" height="14.2" fill="#2c3a90"/>
<rect x="75.4" y="-149.6" width="14.2" height="14.2" fill="#32489a"/>
<rect x="75.4" y="-134.6" width="14.2" height="14.2" fill="#32489a"/>
<rect x="75.4" y="-119.6" width="14.2" height="14.2" fill="#2f4396"/>
<rect x="75.4" y="-104.6" width="14.2" height="14.2" fill="#2d3d92"/>
<rect x="75.4" y="-89.6" width="14.2" height="14.2" fill="#2c3a90"/>
<rect x="75.4" y="-74.6" width="14.2" height="14.2" fill="#2c3a90"/>
<rect x="75.4" y="-59.6" width="14.2" height="14.2" fill="#2c3a90"/>
<rect x="75.4" y="-44.6" width="14.2" height="14.2" fill="#2c3a90"/>
<rect x="75.4" y="-29.6" width="14.2" height="14.2" fill="#2c3a90"/>
<rect x="75.4" y="-14.6" width="14.2" height="14.2" fill="#2d3d92"/>
<rect x="75.4" y="0.4" width="14.2" height="14.2" fill="#2c3a90"/>
<path d="M0 -105V10" stroke="#f2f4fa" stroke-width="1.1" fill="none"/>
<path d="M-30 -60H45M-15 -75H30M-45 -30H15" stroke="#dfe5f3" stroke-width="0.8" fill="none"/>
</g></g>
<path d="M480.0 30.0L488.0 27.0L495.0 28.0L503.0 28.0L510.0 29.0L518.0 29.0L525.0 36.0L526.0 48.0L522.0 56.0L518.0 62.0L505.0 62.0L490.0 62.0L478.0 63.0L476.0 48.0L478.0 38.0Z" fill="#2f4698"/>
<path d="M486.0 38.0L494.0 36.0L500.0 40.0L497.0 45.0L488.0 45.0Z" fill="#3f70a8"/>
<path d="M512.0 44.0L517.0 42.0L519.0 48.0L514.0 50.0Z" fill="#4a84ae"/>
<path d="M496.0 52.0L503.0 51.0L505.0 56.0L498.0 57.0Z" fill="#3f70a8"/>
<path d="M488.4 19.6L495.0 19.6L495.0 28.7L488.4 28.7Z" fill="#6fb0ae"/>
<path d="M503.0 19.6L508.0 19.6L508.0 28.7L503.0 28.7Z" fill="#2b388f"/>
<path d="M511.0 19.6L517.5 19.6L517.5 28.7L511.0 28.7Z" fill="#2b388f"/>
<path d="M530.3 35.2L534.8 31.6L542.0 33.4L555.5 37.0L569.0 39.7L572.6 44.2L579.8 48.7L580.7 53.2L570.8 53.2L561.8 52.3L551.0 53.2L542.0 52.3L538.4 46.9L531.2 39.7Z" fill="#3f6ea8"/>
<path d="M542.0 37.0L551.0 38.8L558.2 42.4L552.8 46.0L544.7 44.2Z" fill="#5d9cb0"/>
<path d="M558.2 46.0L565.4 46.0L570.8 48.7L565.4 50.5Z" fill="#5d9cb0"/>
<path d="M537.5 36.1L542.0 35.2L543.8 39.7L539.3 40.6Z" fill="#5d9cb0"/>
<path d="M574.4 42.0L578.0 41.5L580.7 43.3L578.0 45.1L574.9 44.7Z" fill="#2b388f"/>
<path d="M528.5 52.3L540.2 50.5L551.0 53.2L560.0 55.0L561.8 58.6L551.0 59.5L542.0 58.6L533.0 55.9Z" fill="#2b388f"/>
<path d="M540.2 65.8L545.6 63.1L552.8 64.0L557.3 70.3L552.8 71.2L544.7 69.4Z" fill="#2b388f"/>
<path d="M525.8 71.2L530.3 67.6L534.8 69.4L536.6 76.6L531.2 78.4L527.6 74.8Z" fill="#2b388f"/>
<path d="M546.5 93.7L554.6 91.0L559.1 91.0L557.3 94.6L551.0 97.3Z" fill="#2b388f"/>
<path d="M529.4 98.2L537.5 96.4L545.6 101.8L547.4 106.3L542.0 110.8L534.8 114.4L528.5 110.8L527.6 104.5Z" fill="#2b388f"/>
<path d="M522.2 61.3L526.7 60.4L527.6 66.7L523.1 67.6Z" fill="#2b388f"/>
<path d="M578.0 93.7L581.6 90.1L584.3 91.0L580.7 94.6Z" fill="#2b388f"/>
<path d="M590.6 58.6L593.3 56.8L594.2 60.4L591.5 61.3Z" fill="#2b388f"/>
<path d="M591.5 64.0L594.2 63.1L595.1 65.8L592.4 66.3Z" fill="#2b388f"/>
<path d="M565.4 125.2L572.6 123.4L578.0 127.0L576.2 132.4L569.0 134.2L565.4 130.6Z" fill="#2b388f"/>
<path d="M518.6 114.4L524.0 113.5L525.8 118.9L520.4 119.8Z" fill="#2b388f"/>
<path d="M573.5 56.8L577.1 55.9L576.2 61.3L574.0 60.4Z" fill="#2b388f"/>
<path d="M523.1 86.5L528.5 85.6L530.3 91.0L524.9 91.9Z" fill="#2b388f"/>
<path d="M515.0 19.0L518.6 19.0L518.6 29.8L515.0 30.7Z" fill="#2b388f"/>
<path d="M515.0 33.4L524.9 35.2L526.7 46.0L524.0 53.2L518.6 56.8L515.0 56.8Z" fill="#2b388f"/>
<path d="M515.0 69.4L522.2 69.4L524.0 87.4L520.4 91.0L515.0 91.0Z" fill="#2b388f"/>
<path d="M515.0 96.4L524.9 98.2L525.8 109.0L520.4 112.6L515.0 111.7Z" fill="#2b388f"/>
<path d="M536.6 74.8L544.7 73.0L553.7 76.6L560.9 82.0L559.1 85.6L552.8 90.1L545.6 89.2L542.0 84.7L538.4 80.2Z" fill="#3a5ea2"/>
<path d="M564.1 73.0L569.0 72.1L571.7 73.5L568.1 75.3L564.5 75.3Z" fill="#4d8ab0"/>
<path d="M606.4 69.6L601.5 83.0L595.7 98.3L592.0 109.7L588.0 120.0L585.0 131.0L589.0 133.0L593.0 120.0L598.0 109.7L605.3 98.3L610.0 83.0L611.4 69.6L609.0 67.0Z" fill="#2b388f"/>
<path d="M542.0 121.6L552.8 116.2L561.8 108.1L570.8 101.8L584.3 100.0L583.4 105.4L578.0 113.5L574.4 122.5L565.4 127.0L552.8 125.2Z" fill="#34509e"/>
<path d="M552.8 119.8L561.8 114.4L569.0 112.6L565.4 119.8L557.3 122.5Z" fill="#4f8db0"/>
<path d="M570.8 105.4L579.8 102.7L578.0 108.1L572.6 109.0Z" fill="#4f8db0"/>
<path d="M423.0 20.8L445.7 20.8L446.0 30.0L441.0 38.8L430.0 38.0L424.0 32.0Z" fill="#2b388f"/>
<path d="M427.7 84.0L440.0 80.0L448.4 88.0L447.0 105.0L440.0 114.4L430.0 112.0L426.0 100.0Z" fill="#2b388f"/>
<path d="M425.0 61.0L440.0 59.5L456.5 62.0L452.0 69.4L438.0 68.0L427.0 68.0Z" fill="#2b388f"/>
<path d="M400.0 60.0L410.0 55.0L418.0 62.0L415.0 72.0L405.0 70.0Z" fill="#2b388f"/>
<path d="M410.0 95.0L420.0 92.0L424.0 100.0L418.0 106.0L410.0 104.0Z" fill="#2b388f"/>
<path d="M412.0 131.0L418.0 129.0L422.0 133.0L419.0 138.0L421.0 143.0L416.0 143.5L413.0 138.0Z" fill="#2b388f"/>
<path d="M448.0 153.0L456.0 150.0L466.0 152.0L466.0 170.0L458.0 172.0L449.0 168.0Z" fill="#2b388f"/>
<path d="M400.0 160.0L415.0 158.0L420.0 170.0L408.0 176.0L398.0 170.0Z" fill="#2b388f"/>
<path d="M423.2 20.8L445.7 20.8L444.8 26.2L441.2 28.0L439.4 35.2L434.0 38.8L425.0 39.7L422.3 32.5Z" fill="#2b388f"/>
<path d="M428.6 83.8L435.8 80.2L444.8 82.0L448.4 89.2L446.6 100.0L443.0 105.4L444.8 112.6L437.6 114.4L430.4 112.6L428.6 105.4L432.2 100.0L428.6 95.5L426.8 89.2Z" fill="#2b388f"/>
<path d="M425.0 65.8L430.4 62.2L438.5 64.0L444.8 61.3L452.0 60.4L456.5 64.0L452.0 67.6L443.0 67.6L434.0 69.4L426.8 69.4Z" fill="#2b388f"/>
<path d="M456.5 98.2L466.4 97.3L470.0 103.6L468.2 109.0L470.0 114.4L461.0 116.2L457.4 109.0Z" fill="#2b388f"/>
<path d="M398.0 73.0L401.6 69.4L402.5 82.0L400.7 91.0L398.0 87.4Z" fill="#2b388f"/>
<path d="M393.5 64.0L398.0 62.2L398.9 69.4L395.3 71.2Z" fill="#2b388f"/>
<path d="M390.8 98.2L395.3 96.4L396.2 105.4L392.6 108.1Z" fill="#2b388f"/>
<path d="M409.7 83.8L415.1 82.0L416.0 89.2L411.5 91.0Z" fill="#2b388f"/>
<path d="M419.6 98.2L425.0 96.4L426.8 103.6L422.3 105.4Z" fill="#2b388f"/>
<path d="M420.5 74.8L425.0 73.0L425.9 78.4L421.4 80.2Z" fill="#2b388f"/>
<path d="M475.4 60.4L480.0 58.6L480.0 69.4L476.3 67.6Z" fill="#2b388f"/>
<path d="M398.0 109.0L402.5 108.1L403.4 116.2L398.9 117.1Z" fill="#2b388f"/>
<path d="M434.3 160.0L439.8 160.0L438.0 178.4L434.3 187.5L430.6 191.2L428.8 187.5L432.4 173.8Z" fill="#2b388f"/>
<path d="M409.5 176.5L415.9 175.6L421.4 182.0L419.6 190.3L413.2 189.4L410.4 183.9Z" fill="#2b388f"/>
<path d="M421.4 165.5L426.9 163.7L428.8 171.0L424.2 174.7L421.4 171.0Z" fill="#2b388f"/>
<path d="M400.3 171.0L404.9 169.2L406.7 175.6L402.1 177.4Z" fill="#2b388f"/>
<path d="M414.1 204.1L425.1 201.3L436.1 207.8L434.3 218.8L426.9 223.4L417.8 220.6L414.1 213.3Z" fill="#2b388f"/>
<path d="M408.6 226.1L417.8 223.4L429.7 229.8L428.8 238.1L419.6 239.0L410.4 235.3Z" fill="#2b388f"/>
<path d="M438.0 219.7L447.1 218.8L452.6 224.3L449.0 228.0L439.8 226.1Z" fill="#2b388f"/>
<path d="M395.7 211.4L404.9 209.6L408.6 215.1L399.4 216.9Z" fill="#2b388f"/>
<path d="M370.0 211.4L381.0 209.6L382.9 215.1L373.7 216.9Z" fill="#2b388f"/>
<path d="M448.1 237.1L458.2 236.2L460.0 240.0L448.1 240.0Z" fill="#2b388f"/>
<path d="M429.5 118.0L437.6 119.8L444.8 127.0L449.3 139.0L445.7 139.0L441.2 129.7L434.0 123.4L428.6 120.7Z" fill="#2b388f"/>
<path d="M418.0 117.5L428.0 120.5L437.0 124.5L443.5 131.0L446.0 141.0L445.0 152.0L442.0 163.0L438.5 174.0L435.0 184.0" fill="none" stroke="#2b388f" stroke-width="3.2" stroke-linecap="round" stroke-linejoin="round"/>
<path d="M413.0 206.0L420.0 203.0L430.0 203.5L436.0 207.0L434.0 213.0L420.0 214.0L414.0 211.0Z" fill="#4a80ae"/>
<path d="M448.4 49.6L456.5 51.9L464.6 50.5L470.0 46.0L472.7 40.6" fill="none" stroke="#2b388f" stroke-width="2.5" stroke-linecap="round" stroke-linejoin="round"/>
<path d="M407.0 57.7L405.0 65.0L404.3 76.6L404.0 88.0L404.3 100.0L406.0 107.0L409.7 112.6L414.0 115.5L420.5 117.0L427.0 118.5L434.0 120.7L441.2 125.2L445.7 134.2L446.5 147.0L444.0 158.0L440.5 170.0L437.0 182.0L434.3 192.0" fill="none" stroke="#4f8fb0" stroke-width="1.4" stroke-linecap="round" stroke-linejoin="round"/>
<path d="M409.7 62.2L409.3 73.0L408.8 86.5L409.0 100.0" fill="none" stroke="#4f8fb0" stroke-width="1.4" stroke-linecap="round" stroke-linejoin="round"/>
<ellipse cx="58" cy="73.5" rx="3" ry="3" fill="#2b388f"/>
<ellipse cx="72" cy="74" rx="8" ry="3.5" fill="#2b388f" transform="rotate(5 72 74)"/>
<ellipse cx="73" cy="56" rx="7" ry="1.5" fill="#2b388f" transform="rotate(-5 73 56)"/>
<ellipse cx="95" cy="72" rx="1.8" ry="1.5" fill="#2b388f"/>
<ellipse cx="82.5" cy="45" rx="1.5" ry="1" fill="#2b388f"/>
<ellipse cx="107" cy="121" rx="2.5" ry="4.5" fill="#2b388f" transform="rotate(20 107 121)"/>
<ellipse cx="117" cy="110" rx="5" ry="1.2" fill="#2b388f" transform="rotate(-10 117 110)"/>
<ellipse cx="131" cy="138.5" rx="1" ry="1" fill="#2b388f"/>
<ellipse cx="117.5" cy="53.5" rx="1.3" ry="1.3" fill="#2b388f"/>
<ellipse cx="646" cy="402" rx="3" ry="2" fill="#2b388f"/>
<ellipse cx="645" cy="425" rx="2.5" ry="3" fill="#2b388f"/>
<ellipse cx="382" cy="512" rx="4" ry="1.5" fill="#2b388f"/>
<ellipse cx="600" cy="245" rx="2" ry="2" fill="#2b388f"/>
<ellipse cx="537" cy="374" rx="2.5" ry="2" fill="#2b388f"/>
<path d="M442.7 247.7L449.6 246.9L455.7 245.4L459.5 247.7L458.8 253.0L452.6 252.2L443.5 253.0Z" fill="#2b388f"/>
<path d="M441.2 256.1L448.8 256.1L446.5 259.9L445.0 262.2L441.2 261.4Z" fill="#2b388f"/>
<path d="M419.0 251.0L425.9 251.5L422.8 253.8L422.0 256.1L420.5 253.8Z" fill="#2b388f"/>
<path d="M482.5 257.6L487.8 254.5L490.1 255.3L486.3 258.4Z" fill="#2b388f"/>
<path d="M396.8 273.7L400.6 269.1L402.9 269.1L398.3 274.4Z" fill="#2b388f"/>
<path d="M384.5 264.5L389.1 263.0L390.7 266.0L386.8 266.8Z" fill="#2b388f"/>
<path d="M451.1 266.0L455.7 265.2L457.2 268.3L452.6 269.1Z" fill="#2b388f"/>
<path d="M471.0 268.3L474.8 268.3L475.6 270.6L471.8 270.6Z" fill="#2b388f"/>
<path d="M506.2 277.5L510.0 276.7L510.8 279.8L507.0 281.3Z" fill="#2b388f"/>
<path d="M523.0 274.4L524.9 271.4L526.8 274.4Z" fill="#2b388f"/>
<path d="M470.2 294.3L472.5 289.7L475.6 292.0L475.6 295.9Z" fill="#2b388f"/>
<path d="M436.6 302.0L446.5 301.2L441.2 304.3L438.1 307.3Z" fill="#2b388f"/>
<path d="M460.3 307.3L469.5 305.0L475.6 305.8L469.5 308.9L461.8 309.6Z" fill="#2b388f"/>
<path d="M484.0 315.7L490.9 311.2L495.5 310.4L496.2 312.7L490.9 315.0L486.3 317.3Z" fill="#2b388f"/>
<path d="M519.2 313.5L521.5 308.9L526.1 311.9L527.6 317.3L521.5 316.5Z" fill="#2b388f"/>
<path d="M539.9 314.2L544.4 313.5L544.4 316.5L539.9 316.5Z" fill="#2b388f"/>
<path d="M546.0 316.5L549.8 311.9L553.6 311.2L552.9 316.5L547.5 320.3Z" fill="#2b388f"/>
<path d="M470.2 321.9L475.6 320.3L475.6 323.4L471.0 323.9Z" fill="#2b388f"/>
<path d="M446.5 327.2L453.4 324.2L454.2 325.7L448.0 329.1Z" fill="#2b388f"/>
<path d="M547.5 324.2L552.1 324.9L553.6 330.0L549.0 330.0Z" fill="#2b388f"/>
<path d="M370.8 311.9L374.6 312.2L374.3 314.2L371.2 314.2Z" fill="#2b388f"/>
<path d="M430.4 315.0L432.0 311.9L432.7 312.7L431.2 315.7Z" fill="#2b388f"/>
<path d="M383.0 381.2L385.3 365.9L389.9 365.1L391.4 373.6L394.5 372.0L399.8 378.9L396.0 381.2L391.4 378.1L388.4 382.0Z" fill="#2b388f"/>
<path d="M431.2 396.5L437.3 388.9L446.5 382.7L451.1 382.7L453.4 387.3L454.2 395.0L449.6 399.6L441.9 403.4L434.3 401.1Z" fill="#2b388f"/>
<path d="M429.7 421.0L434.3 416.4L440.4 417.9L437.3 420.2L431.2 425.6Z" fill="#2b388f"/>
<path d="M428.1 379.7L430.4 375.1L432.7 378.1L436.6 384.3L432.7 387.3Z" fill="#2b388f"/>
<path d="M455.7 390.4L460.3 389.6L461.8 393.5L458.0 396.5Z" fill="#2b388f"/>
<path d="M463.3 405.7L465.6 403.4L468.7 411.0L467.2 413.3L464.1 410.3Z" fill="#2b388f"/>
<path d="M435.8 347.5L441.9 347.5L443.5 350.6L437.3 352.1L435.8 356.7Z" fill="#2b388f"/>
<path d="M415.9 350.6L422.0 346.0L426.6 345.2L425.1 349.8L417.4 352.9Z" fill="#2b388f"/>
<path d="M454.9 344.5L461.8 342.2L462.6 344.5L457.2 346.8Z" fill="#2b388f"/>
<path d="M403.7 341.4L406.7 338.4L408.3 343.0L405.2 343.7Z" fill="#2b388f"/>
<path d="M419.7 327.7L422.8 326.9L424.3 329.9L420.5 330.7Z" fill="#2b388f"/>
<path d="M445.7 328.4L452.6 324.6L454.2 326.1L448.0 328.4Z" fill="#2b388f"/>
<path d="M428.9 335.3L432.0 334.5L432.7 337.6L429.7 338.4Z" fill="#2b388f"/>
<path d="M443.5 336.1L446.5 335.3L448.0 339.1L445.0 339.9Z" fill="#2b388f"/>
<path d="M450.3 365.9L452.6 363.6L454.2 369.0L451.9 370.5Z" fill="#2b388f"/>
<path d="M424.3 368.2L431.2 365.1L432.7 366.7L426.6 369.0Z" fill="#2b388f"/>
<path d="M412.1 394.2L415.9 393.1L422.0 394.2L421.3 395.7L413.6 395.7Z" fill="#2b388f"/>
<path d="M547.5 326.9L551.3 326.9L553.6 329.9L549.8 331.0Z" fill="#2b388f"/>
<path d="M545.2 372.8L548.3 371.3L549.0 373.6L546.0 375.1Z" fill="#2b388f"/>
<path d="M470.2 322.3L475.6 320.0L476.4 322.3L471.8 323.4Z" fill="#2b388f"/>
<path d="M458.8 352.1L461.8 351.4L461.8 357.5L459.5 357.5Z" fill="#2b388f"/>
<path d="M421.3 404.9L424.3 404.2L426.6 408.8L423.6 408.8Z" fill="#2b388f"/>
<path d="M479.4 301.5L486.3 298.9L492.4 296.9L500.1 297.8L507.7 298.9L515.4 300.1L522.3 302.0L523.0 305.0" fill="none" stroke="#2b388f" stroke-width="3" stroke-linecap="round" stroke-linejoin="round"/>
<path d="M487.1 313.1L490.9 311.9L492.4 312.7L489.4 314.2Z" fill="#d2c06a"/>
<path d="M544.4 308.1L546.0 305.5L547.5 308.9Z" fill="#c85a30"/>
<path d="M489.4 296.9L497.0 296.9L497.0 298.1L490.9 298.1Z" fill="#62a4ae"/>
<path d="M426.6 402.6L435.8 406.5L441.2 409.5L441.2 411.8L428.1 411.8L426.9 407.2Z" fill="#c9d58a"/>
<path d="M428.1 410.0L441.2 410.0L441.2 411.5L428.5 411.5Z" fill="#d3a050"/>
<path d="M440.4 391.9L446.5 390.4L448.0 393.5L441.9 395.0Z" fill="#6fb0ae"/>
<path d="M456.5 376.6L461.8 375.4L466.4 378.5L460.3 379.7Z" fill="#62a8ae"/>
<path d="M523.0 314.2L525.3 313.5L526.1 316.5L524.2 316.8Z" fill="#c3c46a"/>
<path d="M631.0 17.0L629.5 35.0" stroke="#d4c652" stroke-width="8.5" stroke-linecap="round" fill="none"/>
<path d="M629.5 35.0L623.0 60.0" stroke="#d5c654" stroke-width="9.8" stroke-linecap="round" fill="none"/>
<path d="M623.0 60.0L615.6 85.0" stroke="#d6c856" stroke-width="10.0" stroke-linecap="round" fill="none"/>
<path d="M615.6 85.0L605.3 110.0" stroke="#d6c856" stroke-width="9.5" stroke-linecap="round" fill="none"/>
<path d="M605.3 110.0L596.5 128.0" stroke="#d7c858" stroke-width="10.2" stroke-linecap="round" fill="none"/>
<path d="M596.5 128.0L588.0 150.0" stroke="#d8ca5a" stroke-width="11.2" stroke-linecap="round" fill="none"/>
<path d="M588.0 150.0L579.0 166.0" stroke="#d8ca5a" stroke-width="12.2" stroke-linecap="round" fill="none"/>
<path d="M579.0 166.0L568.0 181.0" stroke="#d9cc5c" stroke-width="13.5" stroke-linecap="round" fill="none"/>
<path d="M568.0 181.0L551.0 195.0" stroke="#dacc5e" stroke-width="14.0" stroke-linecap="round" fill="none"/>
<path d="M551.0 195.0L531.0 210.0" stroke="#dacc5e" stroke-width="13.8" stroke-linecap="round" fill="none"/>
<path d="M531.0 210.0L511.0 219.0" stroke="#dbce60" stroke-width="12.8" stroke-linecap="round" fill="none"/>
<path d="M511.0 219.0L490.4 226.5" stroke="#dcce62" stroke-width="10.5" stroke-linecap="round" fill="none"/>
<path d="M490.4 226.5L481.2 228.0" stroke="#dcd065" stroke-width="8.5" stroke-linecap="round" fill="none"/>
<path d="M481.2 228.0L472.0 227.5" stroke="#ded36b" stroke-width="7.8" stroke-linecap="round" fill="none"/>
<path d="M472.0 227.5L462.8 224.5" stroke="#dfd671" stroke-width="7.5" stroke-linecap="round" fill="none"/>
<path d="M462.8 224.5L455.0 218.5" stroke="#e0d877" stroke-width="7.5" stroke-linecap="round" fill="none"/>
<path d="M455.0 218.5L447.5 210.5" stroke="#e2db7d" stroke-width="7.4" stroke-linecap="round" fill="none"/>
<path d="M447.5 210.5L442.0 203.0" stroke="#e2de83" stroke-width="7.2" stroke-linecap="round" fill="none"/>
<path d="M442.0 203.0L436.0 197.0" stroke="#e4e08a" stroke-width="7.0" stroke-linecap="round" fill="none"/>
<path d="M436.0 197.0L429.0 195.8" stroke="#e6e490" stroke-width="6.9" stroke-linecap="round" fill="none"/>
<path d="M429.0 195.8L420.0 195.6" stroke="#e8e698" stroke-width="6.8" stroke-linecap="round" fill="none"/>
<path d="M420.0 195.6L406.7 199.0" stroke="#e9e8a0" stroke-width="7.6" stroke-linecap="round" fill="none"/>
<path d="M406.7 199.0L388.4 202.6" stroke="#ebeca6" stroke-width="9.2" stroke-linecap="round" fill="none"/>
<path d="M388.4 202.6L370.0 205.9" stroke="#eaecaa" stroke-width="10.5" stroke-linecap="round" fill="none"/>
<path d="M370.0 205.9L354.0 208.0" stroke="#e6ebac" stroke-width="10.5" stroke-linecap="round" fill="none"/>
<path d="M354.0 208.0L337.0 211.0" stroke="#e2eaac" stroke-width="9.8" stroke-linecap="round" fill="none"/>
<path d="M337.0 211.0L321.0 216.6" stroke="#dfe8ac" stroke-width="9.5" stroke-linecap="round" fill="none"/>
<path d="M321.0 216.6L312.0 224.0" stroke="#d7e6ae" stroke-width="10.0" stroke-linecap="round" fill="none"/>
<path d="M312.0 224.0L306.5 234.0" stroke="#cbe0b0" stroke-width="11.2" stroke-linecap="round" fill="none"/>
<path d="M306.5 234.0L302.7 240.0" stroke="#bfdcb1" stroke-width="12.5" stroke-linecap="round" fill="none"/>
<path d="M302.7 240.0L299.5 260.0" stroke="#b5d8b2" stroke-width="14.0" stroke-linecap="round" fill="none"/>
<path d="M299.5 260.0L295.0 280.0" stroke="#aed4b2" stroke-width="16.2" stroke-linecap="round" fill="none"/>
<path d="M295.0 280.0L292.0 295.0" stroke="#a6d0b2" stroke-width="17.0" stroke-linecap="round" fill="none"/>
<path d="M292.0 295.0L289.0 310.0" stroke="#a0ceb2" stroke-width="15.4" stroke-linecap="round" fill="none"/>
<path d="M289.0 310.0L289.5 322.0" stroke="#9eccb2" stroke-width="13.7" stroke-linecap="round" fill="none"/>
<path d="M289.5 322.0L291.5 332.5" stroke="#9acbb4" stroke-width="12.8" stroke-linecap="round" fill="none"/>
<path d="M291.5 332.5L296.7 346.0" stroke="#96c9b4" stroke-width="12.8" stroke-linecap="round" fill="none"/>
<path d="M296.7 346.0L304.5 358.0" stroke="#92c6b4" stroke-width="13.5" stroke-linecap="round" fill="none"/>
<path d="M304.5 358.0L311.0 368.0" stroke="#8ac2b4" stroke-width="14.5" stroke-linecap="round" fill="none"/>
<path d="M311.0 368.0L314.5 379.0" stroke="#84beb4" stroke-width="15.0" stroke-linecap="round" fill="none"/>
<path d="M314.5 379.0L315.0 389.5" stroke="#7cb8b3" stroke-width="14.0" stroke-linecap="round" fill="none"/>
<path d="M315.0 389.5L311.0 398.0" stroke="#72aeb1" stroke-width="12.5" stroke-linecap="round" fill="none"/>
<path d="M631.0 17.0L629.5 35.0" stroke="#cfac48" stroke-width="2.35" stroke-linecap="round" fill="none"/>
<path d="M629.5 35.0L623.0 60.0" stroke="#d0a947" stroke-width="3.19" stroke-linecap="round" fill="none"/>
<path d="M623.0 60.0L615.6 85.0" stroke="#d0a646" stroke-width="3.26" stroke-linecap="round" fill="none"/>
<path d="M615.6 85.0L605.3 110.0" stroke="#d0a145" stroke-width="2.85" stroke-linecap="round" fill="none"/>
<path d="M605.3 110.0L596.5 128.0" stroke="#d09b43" stroke-width="3.31" stroke-linecap="round" fill="none"/>
<path d="M596.5 128.0L588.0 150.0" stroke="#d09541" stroke-width="4.19" stroke-linecap="round" fill="none"/>
<path d="M588.0 150.0L579.0 166.0" stroke="#d0903f" stroke-width="5.03" stroke-linecap="round" fill="none"/>
<path d="M579.0 166.0L568.0 181.0" stroke="#d08b3d" stroke-width="5.88" stroke-linecap="round" fill="none"/>
<path d="M568.0 181.0L551.0 195.0" stroke="#d0863b" stroke-width="6.30" stroke-linecap="round" fill="none"/>
<path d="M551.0 195.0L531.0 210.0" stroke="#d18b3e" stroke-width="6.19" stroke-linecap="round" fill="none"/>
<path d="M531.0 210.0L511.0 219.0" stroke="#d39946" stroke-width="5.44" stroke-linecap="round" fill="none"/>
<path d="M511.0 219.0L490.4 226.5" stroke="#d6a950" stroke-width="3.75" stroke-linecap="round" fill="none"/>
<path d="M490.4 226.5L481.2 228.0" stroke="#dabb5c" stroke-width="1.60" stroke-linecap="round" fill="none"/></g></g>
<path d="M209.8 5.5V534.6M387.9 5.5V534.6M566 5.5V534.6M22.8 36.5H661.2M22.8 214.6H661.2M22.8 392.6H661.2" fill="none" stroke="#a3a3a3" stroke-width="3.3" stroke-linecap="round" stroke-dasharray="3.6 11" clip-path="url(#clip0_0)"/>
<rect x="37" y="11.3" width="172.8" height="8.3" fill="#707070"/>
<rect x="37" y="524.6" width="172.8" height="8.1" fill="#707070"/>
<rect x="387.9" y="11.3" width="178.1" height="8.3" fill="#707070"/>
<rect x="387.9" y="524.6" width="178.1" height="8.1" fill="#707070"/>
<rect x="28.8" y="19.6" width="8.2" height="16.9" fill="#707070"/>
<rect x="651.2" y="19.6" width="8.3" height="16.9" fill="#707070"/>
<rect x="28.8" y="214.6" width="8.2" height="178" fill="#707070"/>
<rect x="651.2" y="214.6" width="8.3" height="178" fill="#707070"/>
<path d="M28.8 11.3H659.5V532.7H28.8ZM37 19.6H651.2V524.6H37ZM209.8 11.3V19.6M209.8 524.6V532.7M387.9 11.3V19.6M387.9 524.6V532.7M566 11.3V19.6M566 524.6V532.7M37 11.3V532.7M651.2 11.3V532.7M28.8 19.6H659.5M28.8 524.6H659.5M28.8 36.5H37M651.2 36.5H659.5M28.8 214.6H37M651.2 214.6H659.5M28.8 392.6H37M651.2 392.6H659.5" fill="none" stroke="#000" stroke-width="1.6"/>
<g clip-path="url(#clip646_0)"><g transform="translate(646 0)"><path d="M37.0 115.0L60.7 132.8L84.4 159.0L108.0 185.0L129.5 213.5L143.7 239.6L154.4 260.0L162.7 277.5L179.3 307.4L190.0 328.6L197.8 344.2L205.6 362.4L212.0 375.4L220.0 385.8L229.0 395.0L242.0 400.2L268.0 400.8L294.0 398.2L304.5 396.3L309.0 392.0L318.0 394.0L317.5 401.5L307.0 409.3L294.0 414.5L281.0 420.0L274.2 421.3L238.6 447.4L212.5 460.4L193.5 461.6L188.8 478.2L169.8 490.0L155.6 485.3L139.0 499.6L134.2 506.7L136.6 519.7L37.0 519.7Z" fill="url(#plumeB)"/>
<path d="M37.0 115.0L60.7 132.8L84.4 159.0L108.0 185.0L129.5 213.5L143.7 239.6L154.4 260.0L162.7 277.5L179.3 307.4L190.0 328.6L197.8 344.2L205.6 362.4L212.0 375.4L220.0 385.8L229.0 395.0L242.0 400.2L268.0 400.8L294.0 398.2L304.5 396.3L309.0 392.0L318.0 394.0L317.5 401.5L307.0 409.3L294.0 414.5L281.0 420.0L274.2 421.3L238.6 447.4L212.5 460.4L193.5 461.6L188.8 478.2L169.8 490.0L155.6 485.3L139.0 499.6L134.2 506.7L136.6 519.7L37.0 519.7Z" fill="url(#mouth)"/>
<path d="M190.0 328.6L197.8 344.2L205.6 362.4L212.0 375.4L220.0 385.8L229.0 394.0" fill="none" stroke="#3a62a4" stroke-width="1.4" stroke-linecap="round" stroke-linejoin="round" opacity="0.4"/>
<path d="M212.0 458.0L238.6 446.0L274.2 420.5L281.0 418.5L294.0 413.5" fill="none" stroke="#3d6aa8" stroke-width="2.5" stroke-linecap="round" stroke-linejoin="round" opacity="0.7"/>
<path d="M137.7 19.6L291.0 19.6L293.0 35.0L296.5 57.0L291.0 70.0L287.0 80.0L285.0 92.0L287.0 104.5L284.0 116.7L279.0 129.0L273.0 138.0L265.5 147.0L260.0 154.0L262.0 163.0L272.0 171.0L271.0 174.5L262.0 170.0L253.0 166.0L251.0 172.4L245.6 183.5L242.0 190.0L240.0 194.5L236.4 205.5L232.7 198.0L229.0 185.3L223.6 181.6L216.2 178.0L212.5 174.3L203.4 161.4L196.3 156.7L187.7 155.0L179.0 151.5L172.1 144.6L165.2 137.7L163.5 132.5L161.8 125.6L153.1 118.7L144.5 115.2L132.4 113.5L130.7 110.0L141.0 104.9L149.7 98.0L151.4 89.3L158.3 85.9L160.0 78.0L153.0 68.6L146.0 64.0L139.0 57.0L135.5 50.0L136.0 35.0Z" fill="#2b388f"/>
<path d="M146.0 62.0L153.0 65.0L170.0 73.5L182.0 82.0L191.0 91.0L203.6 101.6L209.0 107.2L212.5 112.0L216.0 119.0L223.6 128.4L232.7 135.7L240.0 142.0L245.6 148.6L251.0 153.0L254.8 156.0L256.6 159.6L260.3 165.0L265.8 169.7L272.2 170.6L272.0 174.0L259.4 173.4L255.7 167.0L249.3 161.4L240.0 156.0L235.5 148.6L228.0 143.0L221.7 135.7L212.5 126.5L208.0 117.0L203.0 110.0L196.0 103.0L188.0 97.0L180.0 92.5L170.0 88.0L158.3 85.9L150.0 80.0L146.0 70.0Z" fill="#fff"/>
<path d="M268.0 19.6L272.4 32.8L273.4 46.5L273.4 60.3L275.2 66.7L271.5 74.1L269.8 80.0L267.0 91.0L264.0 97.6L260.0 102.0L258.0 110.0L257.5 116.7L256.0 126.0L257.0 135.0L262.0 139.0L268.0 135.0L272.8 129.0L274.0 116.7L277.0 107.0L279.5 100.0L278.0 90.0L279.0 80.0L281.0 70.0L282.0 60.0L281.0 45.0L279.5 32.0L280.0 19.6Z" fill="#fff"/>
<path d="M262.0 100.5L265.0 98.0L268.0 100.0L271.0 104.0L268.0 110.0L267.0 116.0L266.0 122.0L264.0 128.0L262.0 131.0L261.0 124.0L262.0 115.0L262.0 107.0Z" fill="#2b388f"/>
<path d="M234.9 126.5L242.2 124.0L248.4 130.2L253.3 135.0L257.0 141.2L257.0 146.1L253.3 144.9L248.4 138.8L242.2 133.9L236.1 129.0Z" fill="#fff"/>
<path d="M198.0 19.6L208.2 19.6L208.2 27.6L203.6 28.5L200.0 25.0Z" fill="#fff"/>
<path d="M232.0 22.5L238.5 20.8L244.9 26.3L253.2 20.8L250.4 28.2L246.0 33.7L241.0 37.4L235.5 36.5L233.0 31.0Z" fill="#fff"/>
<path d="M204.5 63.5L206.0 65.0L191.0 79.0L189.5 77.5Z" fill="#fff"/>
<path d="M193.5 83.0L197.0 82.5L197.5 88.0L195.0 88.0Z" fill="#fff"/>
<path d="M224.0 119.0L230.0 117.5L234.6 120.0L232.0 123.0L226.0 122.0Z" fill="#fff"/>
<path d="M152.5 104.5L158.0 101.0L164.8 98.4L171.0 96.5L177.0 95.3L183.1 97.6" fill="none" stroke="#fff" stroke-width="2.4" stroke-linecap="round" stroke-linejoin="round"/>
<path d="M167.8 115.2L173.0 113.5L178.6 112.1L183.1 109.1" fill="none" stroke="#fff" stroke-width="2.0" stroke-linecap="round" stroke-linejoin="round"/>
<path d="M165.5 116.0L170.9 121.3L178.6 119.8" fill="none" stroke="#fff" stroke-width="2.0" stroke-linecap="round" stroke-linejoin="round"/>
<path d="M188.5 103.0L189.3 110.6L186.2 116.0L180.0 122.8L177.0 125.9L166.3 127.4" fill="none" stroke="#fff" stroke-width="2.4" stroke-linecap="round" stroke-linejoin="round"/>
<path d="M192.0 104.0L199.0 108.0L203.0 113.0" fill="none" stroke="#fff" stroke-width="1.6" stroke-linecap="round" stroke-linejoin="round"/>
<path d="M141.0 103.0L146.0 99.0L150.0 94.0" fill="none" stroke="#fff" stroke-width="1.5" stroke-linecap="round" stroke-linejoin="round"/>
<path d="M195.0 118.0L200.0 121.0L205.0 127.0" fill="none" stroke="#fff" stroke-width="1.6" stroke-linecap="round" stroke-linejoin="round"/>
<path d="M182.0 131.0L190.0 134.0L197.0 139.0" fill="none" stroke="#fff" stroke-width="1.6" stroke-linecap="round" stroke-linejoin="round"/>
<path d="M176.0 140.0L183.0 144.0L190.0 146.0" fill="none" stroke="#fff" stroke-width="1.5" stroke-linecap="round" stroke-linejoin="round"/>
<path d="M196.0 146.0L204.0 150.0L210.0 151.0" fill="none" stroke="#fff" stroke-width="1.5" stroke-linecap="round" stroke-linejoin="round"/>
<path d="M200.0 132.0L206.0 136.0L212.0 141.0" fill="none" stroke="#fff" stroke-width="1.4" stroke-linecap="round" stroke-linejoin="round"/>
<path d="M213.0 150.0L220.0 153.0L228.0 151.0" fill="none" stroke="#fff" stroke-width="1.4" stroke-linecap="round" stroke-linejoin="round"/>
<path d="M166.0 128.0L172.0 126.0L178.6 127.0L176.0 132.0L170.0 133.6Z" fill="#fff"/>
<ellipse cx="186" cy="128" rx="1.6" ry="1" fill="#fff"/>
<ellipse cx="192" cy="127" rx="1.2" ry="0.8" fill="#fff"/>
<ellipse cx="203" cy="142" rx="1.5" ry="1" fill="#fff"/>
<ellipse cx="189" cy="151" rx="1.3" ry="0.9" fill="#fff"/>
<ellipse cx="181" cy="136" rx="1" ry="0.8" fill="#fff"/>
<ellipse cx="208" cy="156" rx="1.4" ry="1" fill="#fff"/>
<ellipse cx="196" cy="157" rx="1.2" ry="0.8" fill="#fff"/>
<ellipse cx="214" cy="160" rx="1.5" ry="1" fill="#fff"/>
<ellipse cx="222" cy="165" rx="1.3" ry="1" fill="#fff"/>
<ellipse cx="227" cy="172" rx="1.5" ry="1" fill="#fff"/>
<ellipse cx="218" cy="143" rx="1.2" ry="0.8" fill="#fff"/>
<ellipse cx="173" cy="131" rx="1" ry="0.8" fill="#fff"/>
<path d="M297.9 19.6L329.0 19.6L330.0 28.2L326.3 32.8L323.6 40.1L320.0 45.6L312.5 46.5L308.0 44.7L303.4 41.0L298.8 37.4L297.0 31.0Z" fill="#2b388f"/>
<path d="M297.9 48.4L305.0 52.0L315.0 72.0L310.0 72.0L300.0 60.0Z" fill="#2b388f"/>
<path d="M321.7 61.0L330.0 60.0L336.4 66.0L334.0 74.0L326.0 73.0L321.0 68.0Z" fill="#2b388f"/>
<path d="M341.0 41.0L347.0 32.0L352.0 30.0L355.0 38.0L352.0 46.0L354.0 50.0L348.0 54.0L340.0 52.0Z" fill="#2b388f"/>
<path d="M289.6 75.0L296.0 74.0L300.6 78.0L296.0 83.3L290.0 82.0Z" fill="#2b388f"/>
<path d="M370.4 27.3L371.3 30.9L367.6 42.0L360.3 53.9L353.0 64.9L347.4 75.9L345.9 85.0L344.3 93.0L339.0 101.0L337.8 111.8L331.4 122.5L326.6 133.2L325.5 138.6L318.0 140.0L310.0 142.0L300.0 140.0L290.0 143.0L281.0 145.0L283.2 138.6L288.0 135.9L294.0 132.0L300.4 133.2L306.8 127.8L301.4 122.5L294.0 117.0L300.4 109.0L297.0 101.0L297.7 90.4L300.0 86.0L308.0 81.4L317.1 78.7L321.2 80.0L323.6 81.4L319.9 90.6L318.6 101.0L322.8 104.8L328.2 95.7L332.8 83.3L336.4 75.9L341.9 67.7L349.3 57.6L358.5 46.5L365.8 32.8Z" fill="#2b388f"/>
<path d="M330.0 124.0L345.0 124.0L350.0 128.0L360.0 131.0L367.0 134.0L366.0 137.0L355.0 139.0L345.0 140.0L337.0 141.5L330.0 141.5Z" fill="#2b388f"/>
<path d="M378.0 19.6L400.0 19.6L400.0 30.0L396.0 40.0L392.0 46.5L393.4 55.7L387.6 60.0L381.0 60.0L384.0 66.0L387.6 72.0L386.4 78.0L384.0 84.0L387.6 87.6L384.0 93.6L388.8 97.2L390.0 105.0L392.4 114.0L393.0 117.0L388.8 118.8L384.0 120.0L381.0 123.0L378.0 126.0L372.0 127.8L366.0 129.0L360.0 130.8L354.0 132.0L348.0 132.0L345.0 138.0L336.0 140.0L337.8 135.0L342.0 132.0L345.6 127.2L348.0 123.0L343.8 120.0L345.0 117.0L346.8 112.8L343.2 108.0L345.0 105.0L345.6 99.0L348.0 93.6L351.0 91.2L358.8 91.2L360.0 88.8L354.0 87.0L352.8 82.8L355.2 79.8L363.0 75.0L363.6 69.0L369.0 69.6L372.0 66.0L369.0 60.0L367.6 55.0L370.0 45.0L372.0 35.0L375.0 25.0Z" fill="#2b388f"/>
<path d="M366.0 93.6L372.0 94.0L372.0 98.4L366.0 98.0Z" fill="#fff"/>
<path d="M376.8 80.4L382.8 81.0L382.8 85.2L377.0 85.0Z" fill="#fff"/>
<path d="M372.0 115.2L376.8 115.5L376.8 118.8L372.0 118.5Z" fill="#fff"/>
<path d="M349.8 114.0L356.0 113.5L360.0 117.0L355.0 120.0L350.0 119.0Z" fill="#fff"/>
<path d="M383.0 35.0L388.0 33.0L389.0 39.0L384.0 40.0Z" fill="#fff"/>
<path d="M374.0 50.0L379.0 49.0L379.0 54.0L375.0 55.0Z" fill="#fff"/>
<path d="M383.0 40.0L390.0 37.0L393.0 42.0L388.0 45.0Z" fill="#3d5ea4"/>
<path d="M350.0 124.0L356.0 122.0L359.0 128.0L353.0 130.0Z" fill="#3d5ea4"/>
<path d="M371.0 121.0L381.0 118.8L382.0 123.0L373.0 126.0Z" fill="#3d5ea4"/>
<path d="M380.4 111.0L385.0 110.0L385.5 115.0L381.0 115.5Z" fill="#3d5ea4"/>
<path d="M356.0 109.0L361.0 108.5L360.0 111.0L356.0 111.5Z" fill="#3d5ea4"/>
<path d="M367.0 116.0L371.0 115.5L371.0 118.5L367.0 118.5Z" fill="#3d5ea4"/>
<path d="M275.0 141.0L281.8 135.0L290.0 136.0L300.0 135.0L312.0 136.0L326.0 133.0L328.0 137.7L336.0 137.7L345.0 133.0L355.0 132.0L355.0 178.0L345.0 178.0L332.0 173.0L318.0 170.0L312.4 178.2L300.0 177.0L291.7 170.0L291.0 161.0L284.0 160.6L272.0 160.0L266.0 156.0L266.0 148.0Z" fill="#2b388f"/>
<path d="M285.0 147.0L290.0 142.0L300.0 141.5L308.0 144.0L309.0 150.0L304.0 156.0L297.0 158.5L291.0 160.0L287.0 155.0Z" fill="#fff"/>
<path d="M297.0 138.0L305.0 137.0L310.0 140.0L307.0 143.0L300.0 142.0Z" fill="#fff"/>
<path d="M318.8 138.0L323.0 137.5L322.0 144.0L319.0 143.0Z" fill="#fff"/>
<path d="M330.0 140.5L340.0 139.5L355.0 138.5L368.0 140.2L366.7 143.0L355.0 145.0L345.3 147.0L330.0 147.5Z" fill="#fff"/>
<path d="M330.0 147.1L345.3 147.1L360.6 145.6L375.9 142.5L388.1 139.5L398.9 137.2L406.5 135.7L410.3 138.0L411.1 141.0L408.8 147.1L398.9 151.0L388.1 153.3L375.9 156.3L364.4 159.4L353.0 163.2L345.3 167.0L337.7 170.1L330.0 171.6Z" fill="url(#lstripB)"/>
<path d="M360.6 167.8L368.3 164.7L379.7 160.9L387.4 157.8L398.9 154.8L408.0 153.3L406.5 157.8L410.3 162.4L402.7 164.0L395.0 167.0L387.4 168.6L379.7 170.1L372.0 173.9L368.3 175.4L362.1 170.1Z" fill="url(#ls2B)"/>
<path d="M330.0 173.0L345.0 172.0L360.0 175.0L372.0 174.7L385.0 176.0L395.0 180.0L394.0 190.0L385.0 193.0L372.0 195.0L360.0 197.0L345.0 199.0L335.0 199.0L330.0 195.0Z" fill="#2b388f"/>
<path d="M258.0 172.0L263.0 171.5L276.0 176.0L290.0 184.0L296.0 190.0L295.5 197.0L289.0 197.0L278.0 191.0L266.0 183.0L259.0 177.0Z" fill="#3a4f9c"/>
<path d="M263.0 175.0L275.0 179.0L288.0 186.5L293.0 192.0L292.0 195.0L286.0 194.0L276.0 188.5L266.0 181.5Z" fill="#eef0f6"/>
<path d="M317.0 178.0L321.0 177.4L325.0 182.0L325.4 192.0L322.0 198.9L318.0 196.0L316.6 187.0Z" fill="#2b388f"/>
<path d="M304.7 183.0L309.0 181.3L313.0 184.0L314.7 192.0L312.0 197.3L307.0 194.0L305.0 189.0Z" fill="#2b388f"/>
<path d="M249.8 183.3L259.7 182.5L263.8 188.3L264.6 193.2L259.7 200.6L255.5 204.8L260.5 203.9L264.6 203.1L266.3 205.6L263.8 208.9L267.9 210.5L272.9 208.1L277.8 207.2L281.1 208.9L274.5 213.0L271.2 215.5L276.2 218.8L282.8 218.0L286.1 219.6L284.4 226.2L281.1 229.5L287.7 224.6L291.0 222.1L299.3 224.6L300.9 227.9L297.6 234.5L296.0 242.7L292.7 254.3L291.0 259.2L284.4 262.5L277.8 259.2L271.2 255.9L263.0 259.2L259.7 262.5L260.5 270.8L258.8 277.4L253.9 280.7L249.8 280.7L243.2 274.9L237.4 270.8L233.3 262.5L231.6 254.3L231.6 244.4L236.6 237.8L239.9 231.2L243.2 222.9L244.0 219.6L239.0 213.0L238.2 207.2L240.7 202.3L244.0 196.5L248.1 189.9Z" fill="#34519c"/>
<path d="M251.4 186.6L258.8 185.8L261.3 190.7L259.7 198.2L254.7 203.9L252.2 209.7L259.7 214.7L264.6 213.0L271.2 214.7L274.5 222.9L271.2 231.2L264.6 232.8L263.0 237.8L263.8 250.1L260.5 254.3L256.4 259.2L253.1 269.1L254.7 277.4L251.4 277.4L244.8 270.8L239.0 264.2L236.6 254.3L237.4 244.4L241.5 237.8L245.6 226.2L247.3 219.6L244.8 211.4L244.0 204.8L246.5 198.2L248.9 190.7Z" fill="#6a8cc8"/>
<path d="M243.2 239.4L249.8 231.2L256.4 229.5L259.7 237.8L259.7 250.1L256.4 255.9L249.8 258.4L244.8 252.6L243.2 246.0Z" fill="#c4d2ec"/>
<path d="M263.8 234.5L267.9 236.1L271.2 242.7L269.6 251.8L266.3 247.7L264.6 241.1Z" fill="#fff"/>
<path d="M281.1 227.9L286.1 224.6L291.0 226.2L289.4 232.0L284.4 232.8Z" fill="#fff"/>
<path d="M314.5 229.5L334.0 223.7L353.5 220.7L355.5 229.5L358.4 239.3L359.4 251.0L356.4 256.8L349.6 260.7L338.9 262.7L327.2 264.6L324.3 267.5L319.4 267.5L316.5 262.7L314.5 255.8L312.6 244.1L313.5 234.4Z" fill="#2f479a"/>
<path d="M318.4 248.0L355.5 249.0L356.4 255.8L318.4 254.9Z" fill="#3d62a8"/>
<path d="M378.9 232.4L388.6 229.5L390.6 233.4L385.7 239.3L385.7 251.0L382.8 258.8L375.0 265.6L363.3 268.5L357.4 273.4L349.6 277.3L345.7 276.3L347.7 270.5L353.5 265.6L361.3 258.8L368.1 251.0L373.0 242.2L375.9 236.3Z" fill="#2b388f"/>
<path d="M363.3 252.9L373.0 245.1L380.8 239.3L382.8 242.2L378.9 251.0L369.1 256.8L361.3 260.7Z" fill="#3d62a8"/>
<path d="M359.4 241.2L365.2 237.3L373.0 235.4L369.1 241.2L363.3 243.2Z" fill="#2b388f"/>
<path d="M361.3 234.4L367.2 232.4L369.1 236.3L363.3 238.3Z" fill="#2b388f"/>
<path d="M369.1 229.5L375.9 228.5L375.0 232.4L370.1 232.4Z" fill="#2b388f"/>
<path d="M341.8 280.2L349.6 278.3L351.1 282.2L345.7 284.1L341.8 283.1Z" fill="#2b388f"/>
<path d="M347.7 305.6L356.4 305.6L356.9 311.4L348.1 311.4Z" fill="#2b388f"/>
<path d="M338.9 270.5L342.8 268.5L343.8 271.4L339.9 272.4Z" fill="#2b388f"/>
<path d="M395.4 237.3L400.3 235.4L401.3 238.3L396.4 238.8Z" fill="#2b388f"/>
<path d="M384.7 265.6L390.6 263.6L391.5 266.6L385.7 267.0Z" fill="#2b388f"/>
<path d="M396.4 273.4L402.3 268.5L402.3 271.4L397.4 274.4Z" fill="#2b388f"/>
<path d="M354.5 215.9L382.8 213.9L382.8 218.8L355.5 219.3Z" fill="#2b388f"/>
<path d="M310.6 273.4L329.1 273.4L332.0 280.2L336.0 292.9L339.9 302.6L344.7 307.5L345.7 313.4L342.0 322.0L339.0 332.5L331.8 339.0L328.0 350.0L324.0 362.4L318.0 352.0L306.0 343.0L298.0 332.5L296.7 319.5L298.0 313.0L306.7 305.0L309.6 292.6L306.7 288.0L308.6 278.0Z" fill="#2f479a"/>
<path d="M298.0 331.0L312.0 327.0L331.8 320.8" fill="none" stroke="#fff" stroke-width="1.3" stroke-linecap="round" stroke-linejoin="round"/>
<path d="M304.0 343.0L312.0 338.0L320.0 335.0" fill="none" stroke="#fff" stroke-width="1.3" stroke-linecap="round" stroke-linejoin="round"/>
<path d="M312.0 352.0L318.0 348.0L326.0 343.0" fill="none" stroke="#fff" stroke-width="1.3" stroke-linecap="round" stroke-linejoin="round"/>
<path d="M300.0 318.0L306.0 315.0L312.0 313.0" fill="none" stroke="#fff" stroke-width="1.3" stroke-linecap="round" stroke-linejoin="round"/>
<path d="M213.0 324.5L218.4 321.5L229.1 321.5L232.1 328.4L232.1 333.0L232.9 339.1L229.1 341.4L223.0 342.1L216.8 340.6L212.2 336.0L211.5 329.9Z" fill="#2b388f"/>
<path d="M234.4 321.5L239.8 320.7L240.6 323.8L245.9 327.6L242.8 324.5L249.0 326.8L252.8 329.1L250.5 333.0L244.4 334.5L238.3 332.2L234.4 328.4Z" fill="#2b388f"/>
<path d="M203.1 330.7L205.4 331.4L212.2 340.6L211.5 342.1L208.4 339.1Z" fill="#2b388f"/>
<path d="M213.0 346.7L218.4 345.2L226.0 344.4L229.8 350.6L230.6 355.9L230.6 362.0L226.0 362.0L221.4 357.4L218.4 352.8L213.0 349.0Z" fill="#2b388f"/>
<path d="M226.8 344.4L232.9 345.2L233.7 349.8L231.4 351.3L229.1 348.3Z" fill="#2b388f"/>
<path d="M232.1 351.3L236.0 349.0L238.3 352.8L242.8 359.7L243.6 362.0L236.0 362.0L232.1 357.4Z" fill="#2b388f"/>
<path d="M242.1 353.6L249.7 351.7L261.2 352.1L268.9 355.1L276.5 357.4L283.4 359.0L282.6 361.3L272.7 361.3L265.0 360.5L257.4 360.5L249.0 362.0L242.8 355.1Z" fill="#2b388f"/>
<path d="M256.6 336.0L267.3 333.7L279.6 335.2L276.5 340.6L268.9 343.7L262.7 346.0L259.7 342.1Z" fill="#2b388f"/>
<path d="M224.5 365.1L230.6 362.8L242.8 363.6L250.5 364.3L245.9 366.6L239.8 371.2L234.4 369.7L227.5 368.1Z" fill="#2b388f"/>
<path d="M242.8 376.6L245.9 375.0L253.6 377.3L262.7 381.2L262.0 384.2L253.6 382.7L245.9 378.9Z" fill="#2b388f"/>
<path d="M265.0 381.9L272.7 378.1L284.2 375.8L291.8 376.6L288.8 381.9L276.5 385.7L267.3 385.7Z" fill="#2b388f"/>
<path d="M265.8 391.1L276.5 388.0L291.8 386.5L293.3 391.1L284.2 394.9L272.7 396.5L265.0 394.9Z" fill="#2b388f"/>
<path d="M275.0 368.1L280.3 364.3L288.0 365.1L293.3 368.1L294.1 372.0L284.2 371.2L276.5 370.4Z" fill="#2b388f"/>
<path d="M289.5 375.8L295.6 373.5L299.5 375.0L299.5 378.9L291.8 378.9Z" fill="#2b388f"/>
<path d="M219.1 310.8L222.2 310.0L225.2 316.1L223.0 317.7L219.9 314.6Z" fill="#2b388f"/>
<path d="M244.4 313.1L246.7 312.3L248.2 315.4L245.9 316.1Z" fill="#2b388f"/>
<path d="M285.7 356.7L290.3 355.9L291.8 359.7L286.5 359.7Z" fill="#2b388f"/>
<path d="M252.8 347.5L258.1 346.7L260.4 349.8L253.6 350.6Z" fill="#2b388f"/>
<path d="M265.0 316.9L268.9 317.7L273.5 319.9L271.9 320.7L265.8 318.4Z" fill="#2b388f"/>
<path d="M256.6 311.5L260.4 312.3L261.2 314.6L258.1 313.8Z" fill="#2b388f"/>
<path d="M249.0 342.1L252.0 341.4L252.8 343.7L249.7 344.0Z" fill="#2b388f"/>
<path d="M242.8 344.4L245.9 343.7L246.7 346.0L243.6 346.0Z" fill="#2b388f"/>
<path d="M269.6 350.6L276.5 348.6L279.6 349.4L278.8 351.7L272.7 352.5Z" fill="#3d62a8"/>
<g clip-path="url(#saltclip)"><path d="M461.0 65.7L469.0 57.6L478.6 59.0L489.4 61.6L505.6 60.3L517.8 61.6L516.4 80.5L511.0 94.0L505.6 121.0L516.4 126.4L532.6 131.8L551.5 134.5L557.0 140.0L551.5 154.8L562.3 164.2L551.5 175.0L538.0 183.0L524.5 191.2L505.6 207.4L494.8 214.2L486.7 214.2L470.5 208.8L457.0 199.3L443.5 188.5L450.3 180.4L465.0 179.0L463.0 165.0L465.0 150.7L454.3 150.7L454.3 134.5L457.0 121.0L473.2 118.3L476.0 96.7L478.6 92.7L466.5 90.0L461.0 80.5Z" fill="#2e4194"/>
<g transform="translate(489.2 200.9) rotate(10.7)">
<rect x="-74.6" y="-164.6" width="14.2" height="14.2" fill="#31479a"/>
<rect x="-74.6" y="-149.6" width="14.2" height="14.2" fill="#2f4498"/>
<rect x="-74.6" y="-134.6" width="14.2" height="14.2" fill="#2e3f94"/>
<rect x="-74.6" y="-119.6" width="14.2" height="14.2" fill="#2e4195"/>
<rect x="-74.6" y="-104.6" width="14.2" height="14.2" fill="#2e4195"/>
<rect x="-74.6" y="-89.6" width="14.2" height="14.2" fill="#2e4195"/>
<rect x="-74.6" y="-74.6" width="14.2" height="14.2" fill="#31479a"/>
<rect x="-74.6" y="-59.6" width="14.2" height="14.2" fill="#2e4195"/>
<rect x="-74.6" y="-44.6" width="14.2" height="14.2" fill="#2f4498"/>
<rect x="-74.6" y="-29.6" width="14.2" height="14.2" fill="#2e4195"/>
<rect x="-74.6" y="-14.6" width="14.2" height="14.2" fill="#2e4195"/>
<rect x="-74.6" y="0.4" width="14.2" height="14.2" fill="#2e3f94"/>
<rect x="-59.6" y="-164.6" width="14.2" height="14.2" fill="#2e3f94"/>
<rect x="-59.6" y="-149.6" width="14.2" height="14.2" fill="#2e4195"/>
<rect x="-59.6" y="-134.6" width="14.2" height="14.2" fill="#2f4498"/>
<rect x="-59.6" y="-119.6" width="14.2" height="14.2" fill="#2e4195"/>
<rect x="-59.6" y="-104.6" width="14.2" height="14.2" fill="#2e3f94"/>
<rect x="-59.6" y="-89.6" width="14.2" height="14.2" fill="#2e4195"/>
<rect x="-59.6" y="-74.6" width="14.2" height="14.2" fill="#2e4195"/>
<rect x="-59.6" y="-59.6" width="14.2" height="14.2" fill="#2f4498"/>
<rect x="-59.6" y="-44.6" width="14.2" height="14.2" fill="#2e4195"/>
<rect x="-59.6" y="-29.6" width="14.2" height="14.2" fill="#2e3f94"/>
<rect x="-59.6" y="-14.6" width="14.2" height="14.2" fill="#2e4195"/>
<rect x="-59.6" y="0.4" width="14.2" height="14.2" fill="#2f4498"/>
<rect x="-44.6" y="-164.6" width="14.2" height="14.2" fill="#2e4195"/>
<rect x="-44.6" y="-149.6" width="14.2" height="14.2" fill="#2f4498"/>
<rect x="-44.6" y="-134.6" width="14.2" height="14.2" fill="#31479a"/>
<rect x="-44.6" y="-119.6" width="14.2" height="14.2" fill="#2e3f94"/>
<rect x="-44.6" y="-104.6" width="14.2" height="14.2" fill="#2f4498"/>
<rect x="-44.6" y="-89.6" width="14.2" height="14.2" fill="#2e4195"/>
<rect x="-44.6" y="-74.6" width="14.2" height="14.2" fill="#31479a"/>
<rect x="-44.6" y="-59.6" width="14.2" height="14.2" fill="#4372a6"/>
<rect x="-44.6" y="-44.6" width="14.2" height="14.2" fill="#2e4195"/>
<rect x="-44.6" y="-29.6" width="14.2" height="14.2" fill="#2f4498"/>
<rect x="-44.6" y="-14.6" width="14.2" height="14.2" fill="#31479a"/>
<rect x="-44.6" y="0.4" width="14.2" height="14.2" fill="#2e4195"/>
<rect x="-29.6" y="-164.6" width="14.2" height="14.2" fill="#2e4195"/>
<rect x="-29.6" y="-149.6" width="14.2" height="14.2" fill="#2e4195"/>
<rect x="-29.6" y="-134.6" width="14.2" height="14.2" fill="#2f4498"/>
<rect x="-29.6" y="-119.6" width="14.2" height="14.2" fill="#2e3f94"/>
<rect x="-29.6" y="-104.6" width="14.2" height="14.2" fill="#2e3f94"/>
<rect x="-29.6" y="-89.6" width="14.2" height="14.2" fill="#31479a"/>
<rect x="-29.6" y="-74.6" width="14.2" height="14.2" fill="#4372a6"/>
<rect x="-29.6" y="-59.6" width="14.2" height="14.2" fill="#2e3f94"/>
<rect x="-29.6" y="-44.6" width="14.2" height="14.2" fill="#385aa1"/>
<rect x="-29.6" y="-29.6" width="14.2" height="14.2" fill="#385aa1"/>
<rect x="-29.6" y="-14.6" width="14.2" height="14.2" fill="#2f4498"/>
<rect x="-29.6" y="0.4" width="14.2" height="14.2" fill="#2f4498"/>
<rect x="-14.6" y="-164.6" width="14.2" height="14.2" fill="#2f4498"/>
<rect x="-14.6" y="-149.6" width="14.2" height="14.2" fill="#2e4195"/>
<rect x="-14.6" y="-134.6" width="14.2" height="14.2" fill="#31479a"/>
<rect x="-14.6" y="-119.6" width="14.2" height="14.2" fill="#2e3f94"/>
<rect x="-14.6" y="-104.6" width="14.2" height="14.2" fill="#31479a"/>
<rect x="-14.6" y="-89.6" width="14.2" height="14.2" fill="#2e3f94"/>
<rect x="-14.6" y="-74.6" width="14.2" height="14.2" fill="#385aa1"/>
<rect x="-14.6" y="-59.6" width="14.2" height="14.2" fill="#2e4195"/>
<rect x="-14.6" y="-44.6" width="14.2" height="14.2" fill="#385aa1"/>
<rect x="-14.6" y="-29.6" width="14.2" height="14.2" fill="#2e3f94"/>
<rect x="-14.6" y="-14.6" width="14.2" height="14.2" fill="#2f4498"/>
<rect x="-14.6" y="0.4" width="14.2" height="14.2" fill="#31479a"/>
<rect x="0.4" y="-164.6" width="14.2" height="14.2" fill="#2f4498"/>
<rect x="0.4" y="-149.6" width="14.2" height="14.2" fill="#2e3f94"/>
<rect x="0.4" y="-134.6" width="14.2" height="14.2" fill="#2e3f94"/>
<rect x="0.4" y="-119.6" width="14.2" height="14.2" fill="#2e4195"/>
<rect x="0.4" y="-104.6" width="14.2" height="14.2" fill="#2e4195"/>
<rect x="0.4" y="-89.6" width="14.2" height="14.2" fill="#31479a"/>
<rect x="0.4" y="-74.6" width="14.2" height="14.2" fill="#385aa1"/>
<rect x="0.4" y="-59.6" width="14.2" height="14.2" fill="#4e80a6"/>
<rect x="0.4" y="-44.6" width="14.2" height="14.2" fill="#2e3f94"/>
<rect x="0.4" y="-29.6" width="14.2" height="14.2" fill="#385aa1"/>
<rect x="0.4" y="-14.6" width="14.2" height="14.2" fill="#2e4195"/>
<rect x="0.4" y="0.4" width="14.2" height="14.2" fill="#385aa1"/>
<rect x="15.4" y="-164.6" width="14.2" height="14.2" fill="#31479a"/>
<rect x="15.4" y="-149.6" width="14.2" height="14.2" fill="#2e3f94"/>
<rect x="15.4" y="-134.6" width="14.2" height="14.2" fill="#2e4195"/>
<rect x="15.4" y="-119.6" width="14.2" height="14.2" fill="#2e4195"/>
<rect x="15.4" y="-104.6" width="14.2" height="14.2" fill="#31479a"/>
<rect x="15.4" y="-89.6" width="14.2" height="14.2" fill="#2e3f94"/>
<rect x="15.4" y="-74.6" width="14.2" height="14.2" fill="#31479a"/>
<rect x="15.4" y="-59.6" width="14.2" height="14.2" fill="#4372a6"/>
<rect x="15.4" y="-44.6" width="14.2" height="14.2" fill="#385aa1"/>
<rect x="15.4" y="-29.6" width="14.2" height="14.2" fill="#2e4195"/>
<rect x="15.4" y="-14.6" width="14.2" height="14.2" fill="#2e3f94"/>
<rect x="15.4" y="0.4" width="14.2" height="14.2" fill="#31479a"/>
<rect x="30.4" y="-164.6" width="14.2" height="14.2" fill="#2f4498"/>
<rect x="30.4" y="-149.6" width="14.2" height="14.2" fill="#2e4195"/>
<rect x="30.4" y="-134.6" width="14.2" height="14.2" fill="#2e3f94"/>
<rect x="30.4" y="-119.6" width="14.2" height="14.2" fill="#2e4195"/>
<rect x="30.4" y="-104.6" width="14.2" height="14.2" fill="#2f4498"/>
<rect x="30.4" y="-89.6" width="14.2" height="14.2" fill="#31479a"/>
<rect x="30.4" y="-74.6" width="14.2" height="14.2" fill="#487ca6"/>
<rect x="30.4" y="-59.6" width="14.2" height="14.2" fill="#2f4498"/>
<rect x="30.4" y="-44.6" width="14.2" height="14.2" fill="#2e3f94"/>
<rect x="30.4" y="-29.6" width="14.2" height="14.2" fill="#2e3f94"/>
<rect x="30.4" y="-14.6" width="14.2" height="14.2" fill="#2e3f94"/>
<rect x="30.4" y="0.4" width="14.2" height="14.2" fill="#2e4195"/>
<rect x="45.4" y="-164.6" width="14.2" height="14.2" fill="#2f4498"/>
<rect x="45.4" y="-149.6" width="14.2" height="14.2" fill="#2e3f94"/>
<rect x="45.4" y="-134.6" width="14.2" height="14.2" fill="#2e3f94"/>
<rect x="45.4" y="-119.6" width="14.2" height="14.2" fill="#31479a"/>
<rect x="45.4" y="-104.6" width="14.2" height="14.2" fill="#2f4498"/>
<rect x="45.4" y="-89.6" width="14.2" height="14.2" fill="#2e3f94"/>
<rect x="45.4" y="-74.6" width="14.2" height="14.2" fill="#385aa1"/>
<rect x="45.4" y="-59.6" width="14.2" height="14.2" fill="#2e3f94"/>
<rect x="45.4" y="-44.6" width="14.2" height="14.2" fill="#31479a"/>
<rect x="45.4" y="-29.6" width="14.2" height="14.2" fill="#2e3f94"/>
<rect x="45.4" y="-14.6" width="14.2" height="14.2" fill="#2f4498"/>
<rect x="45.4" y="0.4" width="14.2" height="14.2" fill="#2f4498"/>
<rect x="60.4" y="-164.6" width="14.2" height="14.2" fill="#2e4195"/>
<rect x="60.4" y="-149.6" width="14.2" height="14.2" fill="#2f4498"/>
<rect x="60.4" y="-134.6" width="14.2" height="14.2" fill="#2f4498"/>
<rect x="60.4" y="-119.6" width="14.2" height="14.2" fill="#2f4498"/>
<rect x="60.4" y="-104.6" width="14.2" height="14.2" fill="#2f4498"/>
<rect x="60.4" y="-89.6" width="14.2" height="14.2" fill="#2e4195"/>
<rect x="60.4" y="-74.6" width="14.2" height="14.2" fill="#2e3f94"/>
<rect x="60.4" y="-59.6" width="14.2" height="14.2" fill="#2f4498"/>
<rect x="60.4" y="-44.6" width="14.2" height="14.2" fill="#31479a"/>
<rect x="60.4" y="-29.6" width="14.2" height="14.2" fill="#31479a"/>
<rect x="60.4" y="-14.6" width="14.2" height="14.2" fill="#2e4195"/>
<rect x="60.4" y="0.4" width="14.2" height="14.2" fill="#2f4498"/>
<rect x="75.4" y="-164.6" width="14.2" height="14.2" fill="#2e3f94"/>
<rect x="75.4" y="-149.6" width="14.2" height="14.2" fill="#31479a"/>
<rect x="75.4" y="-134.6" width="14.2" height="14.2" fill="#31479a"/>
<rect x="75.4" y="-119.6" width="14.2" height="14.2" fill="#2f4498"/>
<rect x="75.4" y="-104.6" width="14.2" height="14.2" fill="#2e4195"/>
<rect x="75.4" y="-89.6" width="14.2" height="14.2" fill="#2e3f94"/>
<rect x="75.4" y="-74.6" width="14.2" height="14.2" fill="#2e3f94"/>
<rect x="75.4" y="-59.6" width="14.2" height="14.2" fill="#2e3f94"/>
<rect x="75.4" y="-44.6" width="14.2" height="14.2" fill="#2e3f94"/>
<rect x="75.4" y="-29.6" width="14.2" height="14.2" fill="#2e3f94"/>
<rect x="75.4" y="-14.6" width="14.2" height="14.2" fill="#2e4195"/>
<rect x="75.4" y="0.4" width="14.2" height="14.2" fill="#2e3f94"/>
<path d="M0 -105V10" stroke="#f2f4fa" stroke-width="1.1" fill="none"/>
<path d="M-30 -60H45M-15 -75H30M-45 -30H15" stroke="#dfe5f3" stroke-width="0.8" fill="none"/>
</g></g>
<path d="M480.0 30.0L488.0 27.0L495.0 28.0L503.0 28.0L510.0 29.0L518.0 29.0L525.0 36.0L526.0 48.0L522.0 56.0L518.0 62.0L505.0 62.0L490.0 62.0L478.0 63.0L476.0 48.0L478.0 38.0Z" fill="#2f4698"/>
<path d="M486.0 38.0L494.0 36.0L500.0 40.0L497.0 45.0L488.0 45.0Z" fill="#3a5ca4"/>
<path d="M512.0 44.0L517.0 42.0L519.0 48.0L514.0 50.0Z" fill="#3a5ca4"/>
<path d="M496.0 52.0L503.0 51.0L505.0 56.0L498.0 57.0Z" fill="#3a5ca4"/>
<path d="M488.4 19.6L495.0 19.6L495.0 28.7L488.4 28.7Z" fill="#4a70b0"/>
<path d="M503.0 19.6L508.0 19.6L508.0 28.7L503.0 28.7Z" fill="#2b388f"/>
<path d="M511.0 19.6L517.5 19.6L517.5 28.7L511.0 28.7Z" fill="#2b388f"/>
<path d="M530.3 35.2L534.8 31.6L542.0 33.4L555.5 37.0L569.0 39.7L572.6 44.2L579.8 48.7L580.7 53.2L570.8 53.2L561.8 52.3L551.0 53.2L542.0 52.3L538.4 46.9L531.2 39.7Z" fill="#3a60a6"/>
<path d="M542.0 37.0L551.0 38.8L558.2 42.4L552.8 46.0L544.7 44.2Z" fill="#5f82c0"/>
<path d="M558.2 46.0L565.4 46.0L570.8 48.7L565.4 50.5Z" fill="#5f82c0"/>
<path d="M537.5 36.1L542.0 35.2L543.8 39.7L539.3 40.6Z" fill="#5f82c0"/>
<path d="M574.4 42.0L578.0 41.5L580.7 43.3L578.0 45.1L574.9 44.7Z" fill="#2b388f"/>
<path d="M528.5 52.3L540.2 50.5L551.0 53.2L560.0 55.0L561.8 58.6L551.0 59.5L542.0 58.6L533.0 55.9Z" fill="#2b388f"/>
<path d="M540.2 65.8L545.6 63.1L552.8 64.0L557.3 70.3L552.8 71.2L544.7 69.4Z" fill="#2b388f"/>
<path d="M525.8 71.2L530.3 67.6L534.8 69.4L536.6 76.6L531.2 78.4L527.6 74.8Z" fill="#2b388f"/>
<path d="M546.5 93.7L554.6 91.0L559.1 91.0L557.3 94.6L551.0 97.3Z" fill="#2b388f"/>
<path d="M529.4 98.2L537.5 96.4L545.6 101.8L547.4 106.3L542.0 110.8L534.8 114.4L528.5 110.8L527.6 104.5Z" fill="#2b388f"/>
<path d="M522.2 61.3L526.7 60.4L527.6 66.7L523.1 67.6Z" fill="#2b388f"/>
<path d="M578.0 93.7L581.6 90.1L584.3 91.0L580.7 94.6Z" fill="#2b388f"/>
<path d="M590.6 58.6L593.3 56.8L594.2 60.4L591.5 61.3Z" fill="#2b388f"/>
<path d="M591.5 64.0L594.2 63.1L595.1 65.8L592.4 66.3Z" fill="#2b388f"/>
<path d="M565.4 125.2L572.6 123.4L578.0 127.0L576.2 132.4L569.0 134.2L565.4 130.6Z" fill="#2b388f"/>
<path d="M518.6 114.4L524.0 113.5L525.8 118.9L520.4 119.8Z" fill="#2b388f"/>
<path d="M573.5 56.8L577.1 55.9L576.2 61.3L574.0 60.4Z" fill="#2b388f"/>
<path d="M523.1 86.5L528.5 85.6L530.3 91.0L524.9 91.9Z" fill="#2b388f"/>
<path d="M515.0 19.0L518.6 19.0L518.6 29.8L515.0 30.7Z" fill="#2b388f"/>
<path d="M515.0 33.4L524.9 35.2L526.7 46.0L524.0 53.2L518.6 56.8L515.0 56.8Z" fill="#2b388f"/>
<path d="M515.0 69.4L522.2 69.4L524.0 87.4L520.4 91.0L515.0 91.0Z" fill="#2b388f"/>
<path d="M515.0 96.4L524.9 98.2L525.8 109.0L520.4 112.6L515.0 111.7Z" fill="#2b388f"/>
<path d="M536.6 74.8L544.7 73.0L553.7 76.6L560.9 82.0L559.1 85.6L552.8 90.1L545.6 89.2L542.0 84.7L538.4 80.2Z" fill="#3a5ea2"/>
<path d="M564.1 73.0L569.0 72.1L571.7 73.5L568.1 75.3L564.5 75.3Z" fill="#3a5ea2"/>
<path d="M606.4 69.6L601.5 83.0L595.7 98.3L592.0 109.7L588.0 120.0L585.0 131.0L589.0 133.0L593.0 120.0L598.0 109.7L605.3 98.3L610.0 83.0L611.4 69.6L609.0 67.0Z" fill="#2b388f"/>
<path d="M542.0 121.6L552.8 116.2L561.8 108.1L570.8 101.8L584.3 100.0L583.4 105.4L578.0 113.5L574.4 122.5L565.4 127.0L552.8 125.2Z" fill="#34509e"/>
<path d="M552.8 119.8L561.8 114.4L569.0 112.6L565.4 119.8L557.3 122.5Z" fill="#4066aa"/>
<path d="M570.8 105.4L579.8 102.7L578.0 108.1L572.6 109.0Z" fill="#4066aa"/>
<path d="M423.0 20.8L445.7 20.8L446.0 30.0L441.0 38.8L430.0 38.0L424.0 32.0Z" fill="#2b388f"/>
<path d="M427.7 84.0L440.0 80.0L448.4 88.0L447.0 105.0L440.0 114.4L430.0 112.0L426.0 100.0Z" fill="#2b388f"/>
<path d="M425.0 61.0L440.0 59.5L456.5 62.0L452.0 69.4L438.0 68.0L427.0 68.0Z" fill="#2b388f"/>
<path d="M400.0 60.0L410.0 55.0L418.0 62.0L415.0 72.0L405.0 70.0Z" fill="#2b388f"/>
<path d="M410.0 95.0L420.0 92.0L424.0 100.0L418.0 106.0L410.0 104.0Z" fill="#2b388f"/>
<path d="M412.0 131.0L418.0 129.0L422.0 133.0L419.0 138.0L421.0 143.0L416.0 143.5L413.0 138.0Z" fill="#2b388f"/>
<path d="M448.0 153.0L456.0 150.0L466.0 152.0L466.0 170.0L458.0 172.0L449.0 168.0Z" fill="#2b388f"/>
<path d="M400.0 160.0L415.0 158.0L420.0 170.0L408.0 176.0L398.0 170.0Z" fill="#2b388f"/>
<path d="M423.2 20.8L445.7 20.8L444.8 26.2L441.2 28.0L439.4 35.2L434.0 38.8L425.0 39.7L422.3 32.5Z" fill="#2b388f"/>
<path d="M428.6 83.8L435.8 80.2L444.8 82.0L448.4 89.2L446.6 100.0L443.0 105.4L444.8 112.6L437.6 114.4L430.4 112.6L428.6 105.4L432.2 100.0L428.6 95.5L426.8 89.2Z" fill="#2b388f"/>
<path d="M425.0 65.8L430.4 62.2L438.5 64.0L444.8 61.3L452.0 60.4L456.5 64.0L452.0 67.6L443.0 67.6L434.0 69.4L426.8 69.4Z" fill="#2b388f"/>
<path d="M456.5 98.2L466.4 97.3L470.0 103.6L468.2 109.0L470.0 114.4L461.0 116.2L457.4 109.0Z" fill="#2b388f"/>
<path d="M398.0 73.0L401.6 69.4L402.5 82.0L400.7 91.0L398.0 87.4Z" fill="#2b388f"/>
<path d="M393.5 64.0L398.0 62.2L398.9 69.4L395.3 71.2Z" fill="#2b388f"/>
<path d="M390.8 98.2L395.3 96.4L396.2 105.4L392.6 108.1Z" fill="#2b388f"/>
<path d="M409.7 83.8L415.1 82.0L416.0 89.2L411.5 91.0Z" fill="#2b388f"/>
<path d="M419.6 98.2L425.0 96.4L426.8 103.6L422.3 105.4Z" fill="#2b388f"/>
<path d="M420.5 74.8L425.0 73.0L425.9 78.4L421.4 80.2Z" fill="#2b388f"/>
<path d="M475.4 60.4L480.0 58.6L480.0 69.4L476.3 67.6Z" fill="#2b388f"/>
<path d="M398.0 109.0L402.5 108.1L403.4 116.2L398.9 117.1Z" fill="#2b388f"/>
<path d="M434.3 160.0L439.8 160.0L438.0 178.4L434.3 187.5L430.6 191.2L428.8 187.5L432.4 173.8Z" fill="#2b388f"/>
<path d="M409.5 176.5L415.9 175.6L421.4 182.0L419.6 190.3L413.2 189.4L410.4 183.9Z" fill="#2b388f"/>
<path d="M421.4 165.5L426.9 163.7L428.8 171.0L424.2 174.7L421.4 171.0Z" fill="#2b388f"/>
<path d="M400.3 171.0L404.9 169.2L406.7 175.6L402.1 177.4Z" fill="#2b388f"/>
<path d="M414.1 204.1L425.1 201.3L436.1 207.8L434.3 218.8L426.9 223.4L417.8 220.6L414.1 213.3Z" fill="#2b388f"/>
<path d="M408.6 226.1L417.8 223.4L429.7 229.8L428.8 238.1L419.6 239.0L410.4 235.3Z" fill="#2b388f"/>
<path d="M438.0 219.7L447.1 218.8L452.6 224.3L449.0 228.0L439.8 226.1Z" fill="#2b388f"/>
<path d="M395.7 211.4L404.9 209.6L408.6 215.1L399.4 216.9Z" fill="#2b388f"/>
<path d="M370.0 211.4L381.0 209.6L382.9 215.1L373.7 216.9Z" fill="#2b388f"/>
<path d="M448.1 237.1L458.2 236.2L460.0 240.0L448.1 240.0Z" fill="#2b388f"/>
<path d="M429.5 118.0L437.6 119.8L444.8 127.0L449.3 139.0L445.7 139.0L441.2 129.7L434.0 123.4L428.6 120.7Z" fill="#2b388f"/>
<path d="M418.0 117.5L428.0 120.5L437.0 124.5L443.5 131.0L446.0 141.0L445.0 152.0L442.0 163.0L438.5 174.0L435.0 184.0" fill="none" stroke="#2b388f" stroke-width="3.2" stroke-linecap="round" stroke-linejoin="round"/>
<path d="M413.0 206.0L420.0 203.0L430.0 203.5L436.0 207.0L434.0 213.0L420.0 214.0L414.0 211.0Z" fill="#3a5ca4"/>
<path d="M448.4 49.6L456.5 51.9L464.6 50.5L470.0 46.0L472.7 40.6" fill="none" stroke="#2b388f" stroke-width="2.5" stroke-linecap="round" stroke-linejoin="round"/>
<path d="M407.0 57.7L405.0 65.0L404.3 76.6L404.0 88.0L404.3 100.0L406.0 107.0L409.7 112.6L414.0 115.5L420.5 117.0L427.0 118.5L434.0 120.7L441.2 125.2L445.7 134.2L446.5 147.0L444.0 158.0L440.5 170.0L437.0 182.0L434.3 192.0" fill="none" stroke="#3a5aa8" stroke-width="1.4" stroke-linecap="round" stroke-linejoin="round"/>
<path d="M409.7 62.2L409.3 73.0L408.8 86.5L409.0 100.0" fill="none" stroke="#3a5aa8" stroke-width="1.4" stroke-linecap="round" stroke-linejoin="round"/>
<ellipse cx="58" cy="73.5" rx="3" ry="3" fill="#2b388f"/>
<ellipse cx="72" cy="74" rx="8" ry="3.5" fill="#2b388f" transform="rotate(5 72 74)"/>
<ellipse cx="73" cy="56" rx="7" ry="1.5" fill="#2b388f" transform="rotate(-5 73 56)"/>
<ellipse cx="95" cy="72" rx="1.8" ry="1.5" fill="#2b388f"/>
<ellipse cx="82.5" cy="45" rx="1.5" ry="1" fill="#2b388f"/>
<ellipse cx="107" cy="121" rx="2.5" ry="4.5" fill="#2b388f" transform="rotate(20 107 121)"/>
<ellipse cx="117" cy="110" rx="5" ry="1.2" fill="#2b388f" transform="rotate(-10 117 110)"/>
<ellipse cx="131" cy="138.5" rx="1" ry="1" fill="#2b388f"/>
<ellipse cx="117.5" cy="53.5" rx="1.3" ry="1.3" fill="#2b388f"/>
<ellipse cx="646" cy="402" rx="3" ry="2" fill="#2b388f"/>
<ellipse cx="645" cy="425" rx="2.5" ry="3" fill="#2b388f"/>
<ellipse cx="382" cy="512" rx="4" ry="1.5" fill="#2b388f"/>
<ellipse cx="600" cy="245" rx="2" ry="2" fill="#2b388f"/>
<ellipse cx="537" cy="374" rx="2.5" ry="2" fill="#2b388f"/>
<path d="M442.7 247.7L449.6 246.9L455.7 245.4L459.5 247.7L458.8 253.0L452.6 252.2L443.5 253.0Z" fill="#2b388f"/>
<path d="M441.2 256.1L448.8 256.1L446.5 259.9L445.0 262.2L441.2 261.4Z" fill="#2b388f"/>
<path d="M419.0 251.0L425.9 251.5L422.8 253.8L422.0 256.1L420.5 253.8Z" fill="#2b388f"/>
<path d="M482.5 257.6L487.8 254.5L490.1 255.3L486.3 258.4Z" fill="#2b388f"/>
<path d="M396.8 273.7L400.6 269.1L402.9 269.1L398.3 274.4Z" fill="#2b388f"/>
<path d="M384.5 264.5L389.1 263.0L390.7 266.0L386.8 266.8Z" fill="#2b388f"/>
<path d="M451.1 266.0L455.7 265.2L457.2 268.3L452.6 269.1Z" fill="#2b388f"/>
<path d="M471.0 268.3L474.8 268.3L475.6 270.6L471.8 270.6Z" fill="#2b388f"/>
<path d="M506.2 277.5L510.0 276.7L510.8 279.8L507.0 281.3Z" fill="#2b388f"/>
<path d="M523.0 274.4L524.9 271.4L526.8 274.4Z" fill="#2b388f"/>
<path d="M470.2 294.3L472.5 289.7L475.6 292.0L475.6 295.9Z" fill="#2b388f"/>
<path d="M436.6 302.0L446.5 301.2L441.2 304.3L438.1 307.3Z" fill="#2b388f"/>
<path d="M460.3 307.3L469.5 305.0L475.6 305.8L469.5 308.9L461.8 309.6Z" fill="#2b388f"/>
<path d="M484.0 315.7L490.9 311.2L495.5 310.4L496.2 312.7L490.9 315.0L486.3 317.3Z" fill="#2b388f"/>
<path d="M519.2 313.5L521.5 308.9L526.1 311.9L527.6 317.3L521.5 316.5Z" fill="#2b388f"/>
<path d="M539.9 314.2L544.4 313.5L544.4 316.5L539.9 316.5Z" fill="#2b388f"/>
<path d="M546.0 316.5L549.8 311.9L553.6 311.2L552.9 316.5L547.5 320.3Z" fill="#2b388f"/>
<path d="M470.2 321.9L475.6 320.3L475.6 323.4L471.0 323.9Z" fill="#2b388f"/>
<path d="M446.5 327.2L453.4 324.2L454.2 325.7L448.0 329.1Z" fill="#2b388f"/>
<path d="M547.5 324.2L552.1 324.9L553.6 330.0L549.0 330.0Z" fill="#2b388f"/>
<path d="M370.8 311.9L374.6 312.2L374.3 314.2L371.2 314.2Z" fill="#2b388f"/>
<path d="M430.4 315.0L432.0 311.9L432.7 312.7L431.2 315.7Z" fill="#2b388f"/>
<path d="M383.0 381.2L385.3 365.9L389.9 365.1L391.4 373.6L394.5 372.0L399.8 378.9L396.0 381.2L391.4 378.1L388.4 382.0Z" fill="#2b388f"/>
<path d="M431.2 396.5L437.3 388.9L446.5 382.7L451.1 382.7L453.4 387.3L454.2 395.0L449.6 399.6L441.9 403.4L434.3 401.1Z" fill="#2b388f"/>
<path d="M429.7 421.0L434.3 416.4L440.4 417.9L437.3 420.2L431.2 425.6Z" fill="#2b388f"/>
<path d="M428.1 379.7L430.4 375.1L432.7 378.1L436.6 384.3L432.7 387.3Z" fill="#2b388f"/>
<path d="M455.7 390.4L460.3 389.6L461.8 393.5L458.0 396.5Z" fill="#2b388f"/>
<path d="M463.3 405.7L465.6 403.4L468.7 411.0L467.2 413.3L464.1 410.3Z" fill="#2b388f"/>
<path d="M435.8 347.5L441.9 347.5L443.5 350.6L437.3 352.1L435.8 356.7Z" fill="#2b388f"/>
<path d="M415.9 350.6L422.0 346.0L426.6 345.2L425.1 349.8L417.4 352.9Z" fill="#2b388f"/>
<path d="M454.9 344.5L461.8 342.2L462.6 344.5L457.2 346.8Z" fill="#2b388f"/>
<path d="M403.7 341.4L406.7 338.4L408.3 343.0L405.2 343.7Z" fill="#2b388f"/>
<path d="M419.7 327.7L422.8 326.9L424.3 329.9L420.5 330.7Z" fill="#2b388f"/>
<path d="M445.7 328.4L452.6 324.6L454.2 326.1L448.0 328.4Z" fill="#2b388f"/>
<path d="M428.9 335.3L432.0 334.5L432.7 337.6L429.7 338.4Z" fill="#2b388f"/>
<path d="M443.5 336.1L446.5 335.3L448.0 339.1L445.0 339.9Z" fill="#2b388f"/>
<path d="M450.3 365.9L452.6 363.6L454.2 369.0L451.9 370.5Z" fill="#2b388f"/>
<path d="M424.3 368.2L431.2 365.1L432.7 366.7L426.6 369.0Z" fill="#2b388f"/>
<path d="M412.1 394.2L415.9 393.1L422.0 394.2L421.3 395.7L413.6 395.7Z" fill="#2b388f"/>
<path d="M547.5 326.9L551.3 326.9L553.6 329.9L549.8 331.0Z" fill="#2b388f"/>
<path d="M545.2 372.8L548.3 371.3L549.0 373.6L546.0 375.1Z" fill="#2b388f"/>
<path d="M470.2 322.3L475.6 320.0L476.4 322.3L471.8 323.4Z" fill="#2b388f"/>
<path d="M458.8 352.1L461.8 351.4L461.8 357.5L459.5 357.5Z" fill="#2b388f"/>
<path d="M421.3 404.9L424.3 404.2L426.6 408.8L423.6 408.8Z" fill="#2b388f"/>
<path d="M479.4 301.5L486.3 298.9L492.4 296.9L500.1 297.8L507.7 298.9L515.4 300.1L522.3 302.0L523.0 305.0" fill="none" stroke="#2b388f" stroke-width="3" stroke-linecap="round" stroke-linejoin="round"/>
<path d="M631.0 17.0L629.5 35.0" stroke="#ffffff" stroke-width="8.5" stroke-linecap="round" fill="none"/>
<path d="M629.5 35.0L623.0 60.0" stroke="#ffffff" stroke-width="9.8" stroke-linecap="round" fill="none"/>
<path d="M623.0 60.0L615.6 85.0" stroke="#ffffff" stroke-width="10.0" stroke-linecap="round" fill="none"/>
<path d="M615.6 85.0L605.3 110.0" stroke="#ffffff" stroke-width="9.5" stroke-linecap="round" fill="none"/>
<path d="M605.3 110.0L596.5 128.0" stroke="#ffffff" stroke-width="10.2" stroke-linecap="round" fill="none"/>
<path d="M596.5 128.0L588.0 150.0" stroke="#ffffff" stroke-width="11.2" stroke-linecap="round" fill="none"/>
<path d="M588.0 150.0L579.0 166.0" stroke="#ffffff" stroke-width="12.2" stroke-linecap="round" fill="none"/>
<path d="M579.0 166.0L568.0 181.0" stroke="#ffffff" stroke-width="13.5" stroke-linecap="round" fill="none"/>
<path d="M568.0 181.0L551.0 195.0" stroke="#ffffff" stroke-width="14.0" stroke-linecap="round" fill="none"/>
<path d="M551.0 195.0L531.0 210.0" stroke="#ffffff" stroke-width="13.8" stroke-linecap="round" fill="none"/>
<path d="M531.0 210.0L511.0 219.0" stroke="#ffffff" stroke-width="12.8" stroke-linecap="round" fill="none"/>
<path d="M511.0 219.0L490.4 226.5" stroke="#ffffff" stroke-width="10.5" stroke-linecap="round" fill="none"/>
<path d="M490.4 226.5L481.2 228.0" stroke="#ffffff" stroke-width="8.5" stroke-linecap="round" fill="none"/>
<path d="M481.2 228.0L472.0 227.5" stroke="#ffffff" stroke-width="7.8" stroke-linecap="round" fill="none"/>
<path d="M472.0 227.5L462.8 224.5" stroke="#ffffff" stroke-width="7.5" stroke-linecap="round" fill="none"/>
<path d="M462.8 224.5L455.0 218.5" stroke="#ffffff" stroke-width="7.5" stroke-linecap="round" fill="none"/>
<path d="M455.0 218.5L447.5 210.5" stroke="#ffffff" stroke-width="7.4" stroke-linecap="round" fill="none"/>
<path d="M447.5 210.5L442.0 203.0" stroke="#ffffff" stroke-width="7.2" stroke-linecap="round" fill="none"/>
<path d="M442.0 203.0L436.0 197.0" stroke="#ffffff" stroke-width="7.0" stroke-linecap="round" fill="none"/>
<path d="M436.0 197.0L429.0 195.8" stroke="#ffffff" stroke-width="6.9" stroke-linecap="round" fill="none"/>
<path d="M429.0 195.8L420.0 195.6" stroke="#ffffff" stroke-width="6.8" stroke-linecap="round" fill="none"/>
<path d="M420.0 195.6L406.7 199.0" stroke="#ffffff" stroke-width="7.6" stroke-linecap="round" fill="none"/>
<path d="M406.7 199.0L388.4 202.6" stroke="#ffffff" stroke-width="9.2" stroke-linecap="round" fill="none"/>
<path d="M388.4 202.6L370.0 205.9" stroke="#ffffff" stroke-width="10.5" stroke-linecap="round" fill="none"/>
<path d="M370.0 205.9L354.0 208.0" stroke="#ffffff" stroke-width="10.5" stroke-linecap="round" fill="none"/>
<path d="M354.0 208.0L337.0 211.0" stroke="#ffffff" stroke-width="9.8" stroke-linecap="round" fill="none"/>
<path d="M337.0 211.0L321.0 216.6" stroke="#ffffff" stroke-width="9.5" stroke-linecap="round" fill="none"/>
<path d="M321.0 216.6L312.0 224.0" stroke="#ffffff" stroke-width="10.0" stroke-linecap="round" fill="none"/>
<path d="M312.0 224.0L306.5 234.0" stroke="#ffffff" stroke-width="11.2" stroke-linecap="round" fill="none"/>
<path d="M306.5 234.0L302.7 240.0" stroke="#ffffff" stroke-width="12.5" stroke-linecap="round" fill="none"/>
<path d="M302.7 240.0L299.5 260.0" stroke="#ffffff" stroke-width="14.0" stroke-linecap="round" fill="none"/>
<path d="M299.5 260.0L295.0 280.0" stroke="#ffffff" stroke-width="16.2" stroke-linecap="round" fill="none"/>
<path d="M295.0 280.0L292.0 295.0" stroke="#ffffff" stroke-width="17.0" stroke-linecap="round" fill="none"/>
<path d="M292.0 295.0L289.0 310.0" stroke="#ffffff" stroke-width="15.4" stroke-linecap="round" fill="none"/>
<path d="M289.0 310.0L289.5 322.0" stroke="#ffffff" stroke-width="13.7" stroke-linecap="round" fill="none"/>
<path d="M289.5 322.0L291.5 332.5" stroke="#ffffff" stroke-width="12.8" stroke-linecap="round" fill="none"/>
<path d="M291.5 332.5L296.7 346.0" stroke="#ffffff" stroke-width="12.8" stroke-linecap="round" fill="none"/>
<path d="M296.7 346.0L304.5 358.0" stroke="#ffffff" stroke-width="13.5" stroke-linecap="round" fill="none"/>
<path d="M304.5 358.0L311.0 368.0" stroke="#ffffff" stroke-width="14.5" stroke-linecap="round" fill="none"/>
<path d="M311.0 368.0L314.5 379.0" stroke="#ffffff" stroke-width="15.0" stroke-linecap="round" fill="none"/>
<path d="M314.5 379.0L315.0 389.5" stroke="#ffffff" stroke-width="14.0" stroke-linecap="round" fill="none"/>
<path d="M315.0 389.5L311.0 398.0" stroke="#ffffff" stroke-width="12.5" stroke-linecap="round" fill="none"/>
<path d="M635.0 17.3L633.9 35.8" stroke="#4464ac" stroke-width="0.80" stroke-linecap="round" fill="none"/>
<path d="M633.9 35.8L628.1 61.4" stroke="#4464ac" stroke-width="0.80" stroke-linecap="round" fill="none"/>
<path d="M628.1 61.4L620.1 86.6" stroke="#4464ac" stroke-width="0.80" stroke-linecap="round" fill="none"/>
<path d="M620.1 86.6L609.6 111.9" stroke="#4464ac" stroke-width="0.80" stroke-linecap="round" fill="none"/>
<path d="M609.6 111.9L601.5 130.1" stroke="#4464ac" stroke-width="0.80" stroke-linecap="round" fill="none"/>
<path d="M601.5 130.1L593.2 152.4" stroke="#4464ac" stroke-width="0.80" stroke-linecap="round" fill="none"/>
<path d="M593.2 152.4L584.5 169.5" stroke="#4464ac" stroke-width="0.80" stroke-linecap="round" fill="none"/>
<path d="M584.5 169.5L573.0 185.9" stroke="#4464ac" stroke-width="0.80" stroke-linecap="round" fill="none"/>
<path d="M573.0 185.9L555.3 200.5" stroke="#4464ac" stroke-width="0.80" stroke-linecap="round" fill="none"/>
<path d="M555.3 200.5L534.5 215.8" stroke="#4464ac" stroke-width="0.80" stroke-linecap="round" fill="none"/>
<path d="M534.5 215.8L513.3 224.6" stroke="#4464ac" stroke-width="0.80" stroke-linecap="round" fill="none"/>
<path d="M513.3 224.6L491.7 230.8" stroke="#4464ac" stroke-width="0.80" stroke-linecap="round" fill="none"/>
<path d="M491.7 230.8L481.4 232.0" stroke="#4464ac" stroke-width="0.80" stroke-linecap="round" fill="none"/>
<path d="M481.4 232.0L471.3 231.2" stroke="#4464ac" stroke-width="0.80" stroke-linecap="round" fill="none"/>
<path d="M471.3 231.2L461.0 227.8" stroke="#4464ac" stroke-width="0.80" stroke-linecap="round" fill="none"/>
<path d="M461.0 227.8L452.5 221.3" stroke="#4464ac" stroke-width="0.80" stroke-linecap="round" fill="none"/>
<path d="M452.5 221.3L444.7 212.8" stroke="#4464ac" stroke-width="0.80" stroke-linecap="round" fill="none"/>
<path d="M444.7 212.8L439.3 205.3" stroke="#4464ac" stroke-width="0.80" stroke-linecap="round" fill="none"/>
<path d="M439.3 205.3L434.3 200.1" stroke="#4464ac" stroke-width="0.80" stroke-linecap="round" fill="none"/>
<path d="M434.3 200.1L428.7 199.2" stroke="#4464ac" stroke-width="0.80" stroke-linecap="round" fill="none"/>
<path d="M428.7 199.2L420.5 199.0" stroke="#4464ac" stroke-width="0.80" stroke-linecap="round" fill="none"/>
<path d="M420.5 199.0L407.6 203.1" stroke="#4464ac" stroke-width="0.80" stroke-linecap="round" fill="none"/>
<path d="M407.6 203.1L389.3 207.5" stroke="#4464ac" stroke-width="0.80" stroke-linecap="round" fill="none"/>
<path d="M389.3 207.5L370.9 211.3" stroke="#4464ac" stroke-width="0.80" stroke-linecap="round" fill="none"/>
<path d="M370.9 211.3L354.8 212.9" stroke="#4464ac" stroke-width="0.80" stroke-linecap="round" fill="none"/>
<path d="M354.8 212.9L338.2 215.6" stroke="#4464ac" stroke-width="0.80" stroke-linecap="round" fill="none"/>
<path d="M338.2 215.6L323.2 220.8" stroke="#4464ac" stroke-width="0.80" stroke-linecap="round" fill="none"/>
<path d="M323.2 220.8L316.0 227.4" stroke="#4464ac" stroke-width="0.80" stroke-linecap="round" fill="none"/>
<path d="M316.0 227.4L311.7 237.0" stroke="#4464ac" stroke-width="0.80" stroke-linecap="round" fill="none"/>
<path d="M311.7 237.0L309.0 241.7" stroke="#4464ac" stroke-width="0.80" stroke-linecap="round" fill="none"/>
<path d="M309.0 241.7L306.9 261.4" stroke="#4464ac" stroke-width="0.80" stroke-linecap="round" fill="none"/>
<path d="M306.9 261.4L303.6 281.8" stroke="#4464ac" stroke-width="0.80" stroke-linecap="round" fill="none"/>
<path d="M303.6 281.8L300.1 296.6" stroke="#4464ac" stroke-width="0.80" stroke-linecap="round" fill="none"/>
<path d="M300.1 296.6L296.1 310.7" stroke="#4464ac" stroke-width="0.80" stroke-linecap="round" fill="none"/>
<path d="M296.1 310.7L296.0 321.3" stroke="#4464ac" stroke-width="0.80" stroke-linecap="round" fill="none"/>
<path d="M296.0 321.3L297.5 330.7" stroke="#4464ac" stroke-width="0.80" stroke-linecap="round" fill="none"/>
<path d="M297.5 330.7L302.5 343.0" stroke="#4464ac" stroke-width="0.80" stroke-linecap="round" fill="none"/>
<path d="M302.5 343.0L310.4 354.2" stroke="#4464ac" stroke-width="0.80" stroke-linecap="round" fill="none"/>
<path d="M310.4 354.2L317.8 364.8" stroke="#4464ac" stroke-width="0.80" stroke-linecap="round" fill="none"/>
<path d="M317.8 364.8L321.9 377.6" stroke="#4464ac" stroke-width="0.80" stroke-linecap="round" fill="none"/>
<path d="M321.9 377.6L321.4 390.7" stroke="#4464ac" stroke-width="0.80" stroke-linecap="round" fill="none"/>
<path d="M321.4 390.7L316.4 400.6" stroke="#4464ac" stroke-width="0.80" stroke-linecap="round" fill="none"/>
<path d="M627.0 16.7L625.1 34.2" stroke="#4464ac" stroke-width="0.80" stroke-linecap="round" fill="none"/>
<path d="M625.1 34.2L617.9 58.6" stroke="#4464ac" stroke-width="0.80" stroke-linecap="round" fill="none"/>
<path d="M617.9 58.6L611.1 83.4" stroke="#4464ac" stroke-width="0.80" stroke-linecap="round" fill="none"/>
<path d="M611.1 83.4L601.0 108.1" stroke="#4464ac" stroke-width="0.80" stroke-linecap="round" fill="none"/>
<path d="M601.0 108.1L591.5 125.9" stroke="#4464ac" stroke-width="0.80" stroke-linecap="round" fill="none"/>
<path d="M591.5 125.9L582.8 147.6" stroke="#4464ac" stroke-width="0.80" stroke-linecap="round" fill="none"/>
<path d="M582.8 147.6L573.5 162.5" stroke="#4464ac" stroke-width="0.80" stroke-linecap="round" fill="none"/>
<path d="M573.5 162.5L563.0 176.1" stroke="#4464ac" stroke-width="0.80" stroke-linecap="round" fill="none"/>
<path d="M563.0 176.1L546.7 189.5" stroke="#4464ac" stroke-width="0.80" stroke-linecap="round" fill="none"/>
<path d="M546.7 189.5L527.5 204.2" stroke="#4464ac" stroke-width="0.80" stroke-linecap="round" fill="none"/>
<path d="M527.5 204.2L508.7 213.4" stroke="#4464ac" stroke-width="0.80" stroke-linecap="round" fill="none"/>
<path d="M508.7 213.4L489.1 222.2" stroke="#4464ac" stroke-width="0.80" stroke-linecap="round" fill="none"/>
<path d="M489.1 222.2L481.0 224.0" stroke="#4464ac" stroke-width="0.80" stroke-linecap="round" fill="none"/>
<path d="M481.0 224.0L472.7 223.8" stroke="#4464ac" stroke-width="0.80" stroke-linecap="round" fill="none"/>
<path d="M472.7 223.8L464.6 221.2" stroke="#4464ac" stroke-width="0.80" stroke-linecap="round" fill="none"/>
<path d="M464.6 221.2L457.5 215.7" stroke="#4464ac" stroke-width="0.80" stroke-linecap="round" fill="none"/>
<path d="M457.5 215.7L450.3 208.2" stroke="#4464ac" stroke-width="0.80" stroke-linecap="round" fill="none"/>
<path d="M450.3 208.2L444.7 200.7" stroke="#4464ac" stroke-width="0.80" stroke-linecap="round" fill="none"/>
<path d="M444.7 200.7L437.7 193.9" stroke="#4464ac" stroke-width="0.80" stroke-linecap="round" fill="none"/>
<path d="M437.7 193.9L429.3 192.4" stroke="#4464ac" stroke-width="0.80" stroke-linecap="round" fill="none"/>
<path d="M429.3 192.4L419.5 192.2" stroke="#4464ac" stroke-width="0.80" stroke-linecap="round" fill="none"/>
<path d="M419.5 192.2L405.8 194.9" stroke="#4464ac" stroke-width="0.80" stroke-linecap="round" fill="none"/>
<path d="M405.8 194.9L387.5 197.7" stroke="#4464ac" stroke-width="0.80" stroke-linecap="round" fill="none"/>
<path d="M387.5 197.7L369.1 200.5" stroke="#4464ac" stroke-width="0.80" stroke-linecap="round" fill="none"/>
<path d="M369.1 200.5L353.2 203.1" stroke="#4464ac" stroke-width="0.80" stroke-linecap="round" fill="none"/>
<path d="M353.2 203.1L335.8 206.4" stroke="#4464ac" stroke-width="0.80" stroke-linecap="round" fill="none"/>
<path d="M335.8 206.4L318.8 212.4" stroke="#4464ac" stroke-width="0.80" stroke-linecap="round" fill="none"/>
<path d="M318.8 212.4L308.0 220.6" stroke="#4464ac" stroke-width="0.80" stroke-linecap="round" fill="none"/>
<path d="M308.0 220.6L301.3 231.0" stroke="#4464ac" stroke-width="0.80" stroke-linecap="round" fill="none"/>
<path d="M301.3 231.0L296.4 238.3" stroke="#4464ac" stroke-width="0.80" stroke-linecap="round" fill="none"/>
<path d="M296.4 238.3L292.1 258.6" stroke="#4464ac" stroke-width="0.80" stroke-linecap="round" fill="none"/>
<path d="M292.1 258.6L286.4 278.2" stroke="#4464ac" stroke-width="0.80" stroke-linecap="round" fill="none"/>
<path d="M286.4 278.2L283.9 293.4" stroke="#4464ac" stroke-width="0.80" stroke-linecap="round" fill="none"/>
<path d="M283.9 293.4L281.9 309.3" stroke="#4464ac" stroke-width="0.80" stroke-linecap="round" fill="none"/>
<path d="M281.9 309.3L283.0 322.7" stroke="#4464ac" stroke-width="0.80" stroke-linecap="round" fill="none"/>
<path d="M283.0 322.7L285.5 334.3" stroke="#4464ac" stroke-width="0.80" stroke-linecap="round" fill="none"/>
<path d="M285.5 334.3L290.9 349.0" stroke="#4464ac" stroke-width="0.80" stroke-linecap="round" fill="none"/>
<path d="M290.9 349.0L298.6 361.8" stroke="#4464ac" stroke-width="0.80" stroke-linecap="round" fill="none"/>
<path d="M298.6 361.8L304.2 371.2" stroke="#4464ac" stroke-width="0.80" stroke-linecap="round" fill="none"/>
<path d="M304.2 371.2L307.1 380.4" stroke="#4464ac" stroke-width="0.80" stroke-linecap="round" fill="none"/>
<path d="M307.1 380.4L308.6 388.3" stroke="#4464ac" stroke-width="0.80" stroke-linecap="round" fill="none"/>
<path d="M308.6 388.3L305.6 395.4" stroke="#4464ac" stroke-width="0.80" stroke-linecap="round" fill="none"/></g></g>
<path d="M855.8 5.5V534.6M1033.9 5.5V534.6M1212 5.5V534.6M668.8 36.5H1307.2M668.8 214.6H1307.2M668.8 392.6H1307.2" fill="none" stroke="#a3a3a3" stroke-width="3.3" stroke-linecap="round" stroke-dasharray="3.6 11" clip-path="url(#clip646_0)"/>
<rect x="683" y="11.3" width="172.8" height="8.3" fill="#707070"/>
<rect x="683" y="524.6" width="172.8" height="8.1" fill="#707070"/>
<rect x="1033.9" y="11.3" width="178.1" height="8.3" fill="#707070"/>
<rect x="1033.9" y="524.6" width="178.1" height="8.1" fill="#707070"/>
<rect x="674.8" y="19.6" width="8.2" height="16.9" fill="#707070"/>
<rect x="1297.2" y="19.6" width="8.3" height="16.9" fill="#707070"/>
<rect x="674.8" y="214.6" width="8.2" height="178" fill="#707070"/>
<rect x="1297.2" y="214.6" width="8.3" height="178" fill="#707070"/>
<path d="M674.8 11.3H1305.5V532.7H674.8ZM683 19.6H1297.2V524.6H683ZM855.8 11.3V19.6M855.8 524.6V532.7M1033.9 11.3V19.6M1033.9 524.6V532.7M1212 11.3V19.6M1212 524.6V532.7M683 11.3V532.7M1297.2 11.3V532.7M674.8 19.6H1305.5M674.8 524.6H1305.5M674.8 36.5H683M1297.2 36.5H1305.5M674.8 214.6H683M1297.2 214.6H1305.5M674.8 392.6H683M1297.2 392.6H1305.5" fill="none" stroke="#000" stroke-width="1.6"/>
<g clip-path="url(#clip0_538)"><g transform="translate(0 538.3)"><path d="M84.0 155.0L120.0 215.0L160.0 290.0L190.0 345.0L211.0 390.0L230.0 398.0" fill="none" stroke="#8fc4bc" stroke-width="0.9" stroke-linecap="round" stroke-linejoin="round" opacity="0.6"/>
<path d="M237.8 245.1L245.8 229.2L259.7 223.3L267.6 229.2L265.6 253.1L255.7 265.0L247.7 263.0L239.8 255.1Z" fill="#7ab8ae"/>
<path d="M240.8 243.2L247.7 232.2L257.7 228.2L262.7 237.2L260.7 253.1L253.7 260.1L244.8 257.1L240.8 250.1Z" fill="#d4d890"/>
<path d="M247.7 183.5L257.7 181.5L263.7 187.5L261.7 201.4L257.7 211.3L251.7 209.3L247.7 197.4Z" fill="#78b6ae"/>
<path d="M252.7 261.1L259.7 263.0L261.7 279.0L254.7 280.9Z" fill="#86beae"/>
<path d="M253.7 211.3L265.6 217.3L267.6 227.2L259.7 225.2Z" fill="#8cc2ae"/>
<path d="M249.7 189.4L255.7 187.5L257.7 197.4L251.7 199.4Z" fill="#cfd590"/>
<path d="M265.6 177.5L269.6 176.5L293.5 194.4L290.5 196.4Z" fill="#7ab8ae"/>
<path d="M146.0 112.0L149.0 109.0L152.0 111.0L150.0 116.6L147.0 116.0Z" fill="#7ab8ae"/>
<path d="M366.0 32.0L369.0 28.0L370.6 33.0L368.0 40.0L366.5 38.0Z" fill="#7ab8ae"/>
<path d="M389.0 44.0L395.0 38.0L399.7 37.0L398.0 42.0L392.0 47.8Z" fill="#7ab8ae"/>
<path d="M266.5 103.0L269.0 101.0L271.0 104.0L268.5 106.0Z" fill="#8cc2ae"/>
<path d="M266.0 177.0L276.0 181.0L288.0 188.5L292.0 193.0L287.0 194.0L276.0 188.0L266.0 181.0Z" fill="#d7d98c"/>
<path d="M345.0 147.0L360.0 145.6L375.9 142.5L388.1 139.5L398.9 137.2L406.5 135.7L408.0 140.0L404.0 146.0L398.9 149.0L388.1 151.5L375.9 154.0L364.4 156.5L353.0 159.0L345.0 160.0Z" fill="#c9d690"/>
<path d="M362.0 168.0L379.7 161.0L398.9 155.0L407.0 154.0L405.0 159.0L395.0 165.0L379.7 169.0L366.0 173.0Z" fill="#8ec6ae"/>
<path d="M349.0 176.0L356.0 174.0L362.0 180.0L358.0 188.0L351.0 186.0Z" fill="#6aacae"/>
<path d="M357.0 74.0L370.0 72.5L378.0 75.0L374.0 81.0L360.0 81.0Z" fill="#d0d98e"/>
<path d="M366.0 104.0L372.0 103.0L373.0 109.0L367.0 110.0Z" fill="#7dbcae"/>
<path d="M488.5 19.6L494.0 19.6L494.0 28.0L489.0 28.0Z" fill="#88c4ae"/>
<path d="M540.0 36.0L552.0 34.0L556.0 40.0L546.0 44.0Z" fill="#6aacae"/>
<path d="M560.0 38.0L572.0 38.0L576.0 44.0L566.0 48.0Z" fill="#7ab8ae"/>
<path d="M570.0 47.0L577.0 45.0L578.0 51.0L571.0 52.0Z" fill="#6aacae"/>
<path d="M510.0 130.0L520.0 128.0L522.0 134.0L512.0 136.0Z" fill="#6aacae"/>
<path d="M522.0 145.0L532.0 143.0L534.0 149.0L524.0 151.0Z" fill="#6aacae"/>
<path d="M463.0 141.0L469.0 140.0L470.0 147.0L464.0 148.0Z" fill="#6aacae"/>
<path d="M446.0 130.0L452.0 129.0L452.0 135.0L447.0 135.0Z" fill="#6aacae"/>
<path d="M348.0 266.0L358.0 264.0L361.0 270.0L352.0 274.0Z" fill="#d0d88a"/>
<path d="M340.0 268.0L347.0 262.0L360.0 253.0L372.0 245.0L375.0 248.0L362.0 258.0L350.0 266.0Z" fill="#7ab8ae"/>
<path d="M428.0 404.0L436.0 403.0L441.0 409.0L432.0 410.0Z" fill="#cfd38a"/>
<path d="M353.0 50.0L357.0 49.0L358.0 54.0L354.0 55.0Z" fill="#6aacae"/>
<path d="M380.0 44.0L384.0 42.0L386.0 47.0L381.0 48.0Z" fill="#6aacae"/>
<path d="M302.0 150.0L306.0 149.0L307.0 154.0L303.0 155.0Z" fill="#7ab8ae"/>
<path d="M253.0 190.0L262.0 186.0L263.0 196.0L255.0 198.0Z" fill="#6aacae"/>
<path d="M409.7 112.6L414.0 115.5L420.5 117.0L427.0 118.5L434.0 120.7L441.2 125.2L445.7 134.2L446.5 147.0L444.0 158.0L440.5 170.0L437.0 182.0L434.3 192.0" fill="none" stroke="#9ccbc2" stroke-width="0.9" stroke-linecap="round" stroke-linejoin="round" opacity="0.55"/>
<path d="M429.0 195.8L420.0 195.6" stroke="#d8e29a" stroke-width="6.8" stroke-linecap="round" fill="none"/>
<path d="M420.0 195.6L406.7 199.0" stroke="#d6e29a" stroke-width="7.6" stroke-linecap="round" fill="none"/>
<path d="M406.7 199.0L388.4 202.6" stroke="#d6e29c" stroke-width="9.2" stroke-linecap="round" fill="none"/>
<path d="M388.4 202.6L370.0 205.9" stroke="#d3e29e" stroke-width="10.5" stroke-linecap="round" fill="none"/>
<path d="M370.0 205.9L354.0 208.0" stroke="#ccdfa0" stroke-width="10.5" stroke-linecap="round" fill="none"/>
<path d="M354.0 208.0L337.0 211.0" stroke="#c6dda4" stroke-width="9.8" stroke-linecap="round" fill="none"/>
<path d="M337.0 211.0L321.0 216.6" stroke="#bfdaa6" stroke-width="9.5" stroke-linecap="round" fill="none"/>
<path d="M321.0 216.6L312.0 224.0" stroke="#b8d8a9" stroke-width="10.0" stroke-linecap="round" fill="none"/>
<path d="M312.0 224.0L306.5 234.0" stroke="#b2d4ab" stroke-width="11.2" stroke-linecap="round" fill="none"/>
<path d="M306.5 234.0L302.7 240.0" stroke="#acd2ad" stroke-width="12.5" stroke-linecap="round" fill="none"/>
<path d="M302.7 240.0L299.5 260.0" stroke="#a4ceae" stroke-width="14.0" stroke-linecap="round" fill="none"/>
<path d="M299.5 260.0L295.0 280.0" stroke="#9eccae" stroke-width="16.2" stroke-linecap="round" fill="none"/>
<path d="M295.0 280.0L292.0 295.0" stroke="#97c8b0" stroke-width="17.0" stroke-linecap="round" fill="none"/>
<path d="M292.0 295.0L289.0 310.0" stroke="#90c6b0" stroke-width="15.4" stroke-linecap="round" fill="none"/>
<path d="M289.0 310.0L289.5 322.0" stroke="#8ac2b0" stroke-width="13.7" stroke-linecap="round" fill="none"/>
<path d="M289.5 322.0L291.5 332.5" stroke="#85beb0" stroke-width="12.8" stroke-linecap="round" fill="none"/>
<path d="M291.5 332.5L296.7 346.0" stroke="#80bbb0" stroke-width="12.8" stroke-linecap="round" fill="none"/>
<path d="M296.7 346.0L304.5 358.0" stroke="#7ab8b0" stroke-width="13.5" stroke-linecap="round" fill="none"/>
<path d="M304.5 358.0L311.0 368.0" stroke="#74b4b0" stroke-width="14.5" stroke-linecap="round" fill="none"/>
<path d="M311.0 368.0L314.5 379.0" stroke="#6faeb0" stroke-width="15.0" stroke-linecap="round" fill="none"/>
<path d="M314.5 379.0L315.0 389.5" stroke="#68a8af" stroke-width="14.0" stroke-linecap="round" fill="none"/>
<path d="M315.0 389.5L311.0 398.0" stroke="#62a2ae" stroke-width="12.5" stroke-linecap="round" fill="none"/>
<path d="M634.3 17.3L633.2 35.7" stroke="#d9d98a" stroke-width="1.20" stroke-linecap="round" fill="none"/>
<path d="M633.2 35.7L627.2 61.2" stroke="#d9d98a" stroke-width="1.20" stroke-linecap="round" fill="none"/>
<path d="M627.2 61.2L619.4 86.3" stroke="#d9d98a" stroke-width="1.20" stroke-linecap="round" fill="none"/>
<path d="M619.4 86.3L608.9 111.6" stroke="#d9d98a" stroke-width="1.20" stroke-linecap="round" fill="none"/>
<path d="M608.9 111.6L600.7 129.8" stroke="#d9d98a" stroke-width="1.20" stroke-linecap="round" fill="none"/>
<path d="M600.7 129.8L592.4 152.0" stroke="#d9d98a" stroke-width="1.20" stroke-linecap="round" fill="none"/>
<path d="M592.4 152.0L583.6 169.0" stroke="#d9d98a" stroke-width="1.20" stroke-linecap="round" fill="none"/>
<path d="M583.6 169.0L572.2 185.1" stroke="#d9d98a" stroke-width="1.20" stroke-linecap="round" fill="none"/>
<path d="M572.2 185.1L554.6 199.6" stroke="#d9d98a" stroke-width="1.20" stroke-linecap="round" fill="none"/>
<path d="M554.6 199.6L533.9 214.9" stroke="#d9d98a" stroke-width="1.20" stroke-linecap="round" fill="none"/>
<path d="M533.9 214.9L512.9 223.7" stroke="#d9d98a" stroke-width="1.20" stroke-linecap="round" fill="none"/>
<path d="M512.9 223.7L491.5 230.1" stroke="#d9d98a" stroke-width="1.20" stroke-linecap="round" fill="none"/>
<path d="M491.5 230.1L481.4 231.4" stroke="#d9d98a" stroke-width="1.20" stroke-linecap="round" fill="none"/>
<path d="M481.4 231.4L471.4 230.6" stroke="#d9d98a" stroke-width="1.20" stroke-linecap="round" fill="none"/>
<path d="M471.4 230.6L461.3 227.3" stroke="#d9d98a" stroke-width="1.20" stroke-linecap="round" fill="none"/>
<path d="M461.3 227.3L452.9 220.8" stroke="#d9d98a" stroke-width="1.20" stroke-linecap="round" fill="none"/>
<path d="M452.9 220.8L445.2 212.5" stroke="#d9d98a" stroke-width="1.20" stroke-linecap="round" fill="none"/>
<path d="M445.2 212.5L439.8 204.9" stroke="#d9d98a" stroke-width="1.20" stroke-linecap="round" fill="none"/>
<path d="M439.8 204.9L434.6 199.6" stroke="#d9d98a" stroke-width="1.20" stroke-linecap="round" fill="none"/>
<path d="M434.6 199.6L428.8 198.6" stroke="#d9d98a" stroke-width="1.20" stroke-linecap="round" fill="none"/>
<path d="M428.8 198.6L420.4 198.4" stroke="#d9d98a" stroke-width="1.20" stroke-linecap="round" fill="none"/>
<path d="M627.7 16.7L625.8 34.3" stroke="#d9d98a" stroke-width="1.20" stroke-linecap="round" fill="none"/>
<path d="M625.8 34.3L618.8 58.8" stroke="#d9d98a" stroke-width="1.20" stroke-linecap="round" fill="none"/>
<path d="M618.8 58.8L611.8 83.7" stroke="#d9d98a" stroke-width="1.20" stroke-linecap="round" fill="none"/>
<path d="M611.8 83.7L601.7 108.4" stroke="#d9d98a" stroke-width="1.20" stroke-linecap="round" fill="none"/>
<path d="M601.7 108.4L592.3 126.2" stroke="#d9d98a" stroke-width="1.20" stroke-linecap="round" fill="none"/>
<path d="M592.3 126.2L583.6 148.0" stroke="#d9d98a" stroke-width="1.20" stroke-linecap="round" fill="none"/>
<path d="M583.6 148.0L574.4 163.0" stroke="#d9d98a" stroke-width="1.20" stroke-linecap="round" fill="none"/>
<path d="M574.4 163.0L563.8 176.9" stroke="#d9d98a" stroke-width="1.20" stroke-linecap="round" fill="none"/>
<path d="M563.8 176.9L547.4 190.4" stroke="#d9d98a" stroke-width="1.20" stroke-linecap="round" fill="none"/>
<path d="M547.4 190.4L528.1 205.1" stroke="#d9d98a" stroke-width="1.20" stroke-linecap="round" fill="none"/>
<path d="M528.1 205.1L509.1 214.3" stroke="#d9d98a" stroke-width="1.20" stroke-linecap="round" fill="none"/>
<path d="M509.1 214.3L489.3 222.9" stroke="#d9d98a" stroke-width="1.20" stroke-linecap="round" fill="none"/>
<path d="M489.3 222.9L481.0 224.6" stroke="#d9d98a" stroke-width="1.20" stroke-linecap="round" fill="none"/>
<path d="M481.0 224.6L472.6 224.4" stroke="#d9d98a" stroke-width="1.20" stroke-linecap="round" fill="none"/>
<path d="M472.6 224.4L464.3 221.7" stroke="#d9d98a" stroke-width="1.20" stroke-linecap="round" fill="none"/>
<path d="M464.3 221.7L457.1 216.2" stroke="#d9d98a" stroke-width="1.20" stroke-linecap="round" fill="none"/>
<path d="M457.1 216.2L449.8 208.5" stroke="#d9d98a" stroke-width="1.20" stroke-linecap="round" fill="none"/>
<path d="M449.8 208.5L444.2 201.1" stroke="#d9d98a" stroke-width="1.20" stroke-linecap="round" fill="none"/>
<path d="M444.2 201.1L437.4 194.4" stroke="#d9d98a" stroke-width="1.20" stroke-linecap="round" fill="none"/>
<path d="M437.4 194.4L429.2 193.0" stroke="#d9d98a" stroke-width="1.20" stroke-linecap="round" fill="none"/>
<path d="M429.2 193.0L419.6 192.8" stroke="#d9d98a" stroke-width="1.20" stroke-linecap="round" fill="none"/>
<path d="M629.0 16.8L627.3 34.6" stroke="#d6d680" stroke-width="4.50" stroke-linecap="round" fill="none"/>
<path d="M627.3 34.6L620.5 59.3" stroke="#d6d680" stroke-width="4.00" stroke-linecap="round" fill="none"/>
<path d="M620.5 59.3L613.4 84.2" stroke="#d6d680" stroke-width="2.50" stroke-linecap="round" fill="none"/>
<path d="M613.4 84.2L603.1 109.0" stroke="#d6d680" stroke-width="2.00" stroke-linecap="round" fill="none"/>
<path d="M603.1 109.0L594.0 126.9" stroke="#d6d680" stroke-width="2.50" stroke-linecap="round" fill="none"/>
<path d="M594.0 126.9L585.4 148.8" stroke="#d6d680" stroke-width="1.85" stroke-linecap="round" fill="none"/>
<path d="M585.4 148.8L576.3 164.2" stroke="#d6d680" stroke-width="1.10" stroke-linecap="round" fill="none"/>
<path d="M576.3 164.2L565.5 178.6" stroke="#d6d680" stroke-width="1.00" stroke-linecap="round" fill="none"/>
<path d="M565.5 178.6L548.8 192.2" stroke="#d6d680" stroke-width="1.25" stroke-linecap="round" fill="none"/>
<path d="M548.8 192.2L529.3 207.1" stroke="#d6d680" stroke-width="1.50" stroke-linecap="round" fill="none"/>
<path d="M529.3 207.1L509.9 216.2" stroke="#d6d680" stroke-width="2.00" stroke-linecap="round" fill="none"/>
<path d="M509.9 216.2L489.7 224.3" stroke="#d6d680" stroke-width="2.75" stroke-linecap="round" fill="none"/>
<path d="M489.7 224.3L481.1 226.0" stroke="#d6d680" stroke-width="3.25" stroke-linecap="round" fill="none"/>
<path d="M481.1 226.0L472.4 225.7" stroke="#d6d680" stroke-width="3.25" stroke-linecap="round" fill="none"/>
<path d="M472.4 225.7L463.7 222.8" stroke="#d6d680" stroke-width="2.50" stroke-linecap="round" fill="none"/>
<path d="M463.7 222.8L456.3 217.1" stroke="#d6d680" stroke-width="2.25" stroke-linecap="round" fill="none"/>
<path d="M456.3 217.1L448.9 209.3" stroke="#d6d680" stroke-width="2.75" stroke-linecap="round" fill="none"/>
<path d="M448.9 209.3L443.3 201.9" stroke="#d6d680" stroke-width="3.00" stroke-linecap="round" fill="none"/>
<path d="M443.3 201.9L436.8 195.5" stroke="#d6d680" stroke-width="3.00" stroke-linecap="round" fill="none"/>
<path d="M436.8 195.5L429.1 194.1" stroke="#d6d680" stroke-width="3.00" stroke-linecap="round" fill="none"/>
<path d="M429.1 194.1L419.8 193.9" stroke="#d6d680" stroke-width="3.00" stroke-linecap="round" fill="none"/></g></g>
<path d="M209.8 543.8V1072.9M387.9 543.8V1072.9M566 543.8V1072.9M22.8 574.8H661.2M22.8 752.9H661.2M22.8 930.9H661.2" fill="none" stroke="#a3a3a3" stroke-width="3.3" stroke-linecap="round" stroke-dasharray="3.6 11" clip-path="url(#clip0_538)"/>
<rect x="37" y="549.6" width="172.8" height="8.3" fill="#707070"/>
<rect x="37" y="1062.9" width="172.8" height="8.1" fill="#707070"/>
<rect x="387.9" y="549.6" width="178.1" height="8.3" fill="#707070"/>
<rect x="387.9" y="1062.9" width="178.1" height="8.1" fill="#707070"/>
<rect x="28.8" y="557.9" width="8.2" height="16.9" fill="#707070"/>
<rect x="651.2" y="557.9" width="8.3" height="16.9" fill="#707070"/>
<rect x="28.8" y="752.9" width="8.2" height="178" fill="#707070"/>
<rect x="651.2" y="752.9" width="8.3" height="178" fill="#707070"/>
<path d="M28.8 549.6H659.5V1071H28.8ZM37 557.9H651.2V1062.9H37ZM209.8 549.6V557.9M209.8 1062.9V1071M387.9 549.6V557.9M387.9 1062.9V1071M566 549.6V557.9M566 1062.9V1071M37 549.6V1071M651.2 549.6V1071M28.8 557.9H659.5M28.8 1062.9H659.5M28.8 574.8H37M651.2 574.8H659.5M28.8 752.9H37M651.2 752.9H659.5M28.8 930.9H37M651.2 930.9H659.5" fill="none" stroke="#000" stroke-width="1.6"/>
<g clip-path="url(#clip646_538)"><g transform="translate(646 538.3)"><path d="M383.7 146.5L390.3 144.6L392.1 150.2L384.6 151.2Z" fill="#c8c048"/>
<path d="M283.2 189.2L288.8 188.8L290.7 192.0L284.1 192.5Z" fill="#c8c048"/>
<path d="M322.6 184.1L325.4 183.6L325.9 186.9L323.1 186.9Z" fill="#c8c048"/>
<path d="M246.5 244.2L250.3 241.4L253.1 249.8L248.4 252.6Z" fill="#c2b844"/>
<path d="M255.0 276.1L260.6 274.3L261.6 279.4L255.9 280.4Z" fill="#c8c048"/>
<path d="M278.0 308.5L280.3 308.1L280.8 310.9L278.5 311.4Z" fill="#c05a30"/>
<path d="M323.6 250.8L356.4 252.2L356.4 254.5L323.6 253.1Z" fill="#c8b84a"/>
<path d="M354.6 271.0L360.2 270.5L360.2 272.8L354.6 273.3Z" fill="#c8c048"/>
<path d="M488.9 312.8L492.7 311.8L493.1 315.1L489.4 315.6Z" fill="#c0502c"/>
<path d="M527.0 314.7L529.8 314.2L529.8 317.5L527.4 317.5Z" fill="#c0502c"/>
<path d="M544.8 306.2L548.6 305.3L549.0 309.5L545.3 310.0Z" fill="#c0502c"/>
<path d="M486.1 324.1L488.9 324.1L488.9 325.9L486.1 325.9Z" fill="#c0502c"/>
<path d="M429.7 409.5L440.1 409.1L440.5 411.4L430.2 411.9Z" fill="#c8c048"/>
<path d="M455.1 386.1L457.4 386.1L457.4 387.9L455.1 387.9Z" fill="#c05a30"/>
<path d="M643.0 404.9L647.7 403.0L648.6 407.7L643.9 408.6Z" fill="#c8c048"/>
<path d="M319.3 353.6L321.7 353.2L323.6 361.6L320.7 362.1Z" fill="#d0c060"/>
<path d="M373.4 173.7L376.2 173.3L376.2 175.6L373.4 176.1Z" fill="#c8c048"/>
<path d="M632.4 17.1L631.1 35.3" stroke="#c7bd48" stroke-width="2.75" stroke-linecap="round" fill="none"/>
<path d="M631.1 35.3L624.8 60.5" stroke="#c5b746" stroke-width="5.25" stroke-linecap="round" fill="none"/>
<path d="M624.8 60.5L617.2 85.6" stroke="#c4b746" stroke-width="6.00" stroke-linecap="round" fill="none"/>
<path d="M617.2 85.6L606.9 110.7" stroke="#c6bc48" stroke-width="4.75" stroke-linecap="round" fill="none"/>
<path d="M606.9 110.7L598.3 128.8" stroke="#c6be49" stroke-width="5.50" stroke-linecap="round" fill="none"/>
<path d="M598.3 128.8L589.9 150.9" stroke="#c4bb48" stroke-width="7.00" stroke-linecap="round" fill="none"/>
<path d="M589.9 150.9L581.0 167.3" stroke="#c4b846" stroke-width="8.00" stroke-linecap="round" fill="none"/>
<path d="M581.0 167.3L569.8 182.8" stroke="#c2b645" stroke-width="9.25" stroke-linecap="round" fill="none"/>
<path d="M569.8 182.8L552.6 197.0" stroke="#c2b244" stroke-width="10.25" stroke-linecap="round" fill="none"/>
<path d="M552.6 197.0L532.3 212.1" stroke="#c2b042" stroke-width="10.25" stroke-linecap="round" fill="none"/>
<path d="M532.3 212.1L511.8 221.0" stroke="#c3b044" stroke-width="9.50" stroke-linecap="round" fill="none"/>
<path d="M511.8 221.0L490.9 228.1" stroke="#c5b646" stroke-width="8.25" stroke-linecap="round" fill="none"/>
<path d="M490.9 228.1L481.3 229.4" stroke="#c6ba4a" stroke-width="7.00" stroke-linecap="round" fill="none"/>
<path d="M481.3 229.4L471.7 228.8" stroke="#c8be4d" stroke-width="6.25" stroke-linecap="round" fill="none"/>
<path d="M471.7 228.8L462.2 225.7" stroke="#cac250" stroke-width="5.75" stroke-linecap="round" fill="none"/>
<path d="M462.2 225.7L454.1 219.5" stroke="#cac454" stroke-width="5.25" stroke-linecap="round" fill="none"/>
<path d="M454.1 219.5L446.5 211.3" stroke="#ccc657" stroke-width="4.50" stroke-linecap="round" fill="none"/>
<path d="M446.5 211.3L441.0 203.8" stroke="#ccc85a" stroke-width="3.50" stroke-linecap="round" fill="none"/>
<path d="M441.0 203.8L435.4 198.1" stroke="#cec85e" stroke-width="2.60" stroke-linecap="round" fill="none"/>
<path d="M435.4 198.1L428.9 197.0" stroke="#ceca61" stroke-width="1.70" stroke-linecap="round" fill="none"/>
<path d="M428.9 197.0L420.2 196.8" stroke="#d0cc64" stroke-width="0.60" stroke-linecap="round" fill="none"/>
<path d="M631.1 35.3L624.8 60.5" stroke="#c48a3c" stroke-width="1.25" stroke-linecap="round" fill="none"/>
<path d="M624.8 60.5L617.2 85.6" stroke="#c48a3c" stroke-width="1.75" stroke-linecap="round" fill="none"/>
<path d="M617.2 85.6L606.9 110.7" stroke="#c4893c" stroke-width="0.50" stroke-linecap="round" fill="none"/>
<path d="M606.9 110.7L598.3 128.8" stroke="#c4893c" stroke-width="0.25" stroke-linecap="round" fill="none"/>
<path d="M598.3 128.8L589.9 150.9" stroke="#c4893c" stroke-width="0.85" stroke-linecap="round" fill="none"/>
<path d="M589.9 150.9L581.0 167.3" stroke="#c4893b" stroke-width="1.60" stroke-linecap="round" fill="none"/>
<path d="M581.0 167.3L569.8 182.8" stroke="#c4883b" stroke-width="2.50" stroke-linecap="round" fill="none"/>
<path d="M569.8 182.8L552.6 197.0" stroke="#c4883b" stroke-width="3.25" stroke-linecap="round" fill="none"/>
<path d="M552.6 197.0L532.3 212.1" stroke="#c4883b" stroke-width="3.50" stroke-linecap="round" fill="none"/>
<path d="M532.3 212.1L511.8 221.0" stroke="#c4883b" stroke-width="3.25" stroke-linecap="round" fill="none"/>
<path d="M511.8 221.0L490.9 228.1" stroke="#c4883b" stroke-width="2.25" stroke-linecap="round" fill="none"/>
<path d="M490.9 228.1L481.3 229.4" stroke="#c4883b" stroke-width="0.90" stroke-linecap="round" fill="none"/>
<path d="M481.3 229.4L471.7 228.8" stroke="#c4883b" stroke-width="0.15" stroke-linecap="round" fill="none"/></g></g>
<path d="M855.8 543.8V1072.9M1033.9 543.8V1072.9M1212 543.8V1072.9M668.8 574.8H1307.2M668.8 752.9H1307.2M668.8 930.9H1307.2" fill="none" stroke="#a3a3a3" stroke-width="3.3" stroke-linecap="round" stroke-dasharray="3.6 11" clip-path="url(#clip646_538)"/>
<rect x="683" y="549.6" width="172.8" height="8.3" fill="#707070"/>
<rect x="683" y="1062.9" width="172.8" height="8.1" fill="#707070"/>
<rect x="1033.9" y="549.6" width="178.1" height="8.3" fill="#707070"/>
<rect x="1033.9" y="1062.9" width="178.1" height="8.1" fill="#707070"/>
<rect x="674.8" y="557.9" width="8.2" height="16.9" fill="#707070"/>
<rect x="1297.2" y="557.9" width="8.3" height="16.9" fill="#707070"/>
<rect x="674.8" y="752.9" width="8.2" height="178" fill="#707070"/>
<rect x="1297.2" y="752.9" width="8.3" height="178" fill="#707070"/>
<path d="M674.8 549.6H1305.5V1071H674.8ZM683 557.9H1297.2V1062.9H683ZM855.8 549.6V557.9M855.8 1062.9V1071M1033.9 549.6V557.9M1033.9 1062.9V1071M1212 549.6V557.9M1212 1062.9V1071M683 549.6V1071M1297.2 549.6V1071M674.8 557.9H1305.5M674.8 1062.9H1305.5M674.8 574.8H683M1297.2 574.8H1305.5M674.8 752.9H683M1297.2 752.9H1305.5M674.8 930.9H683M1297.2 930.9H1305.5" fill="none" stroke="#000" stroke-width="1.6"/>
<text x="0" y="0" transform="translate(23.8 36.5) rotate(-90)" class="ax" text-anchor="middle">37.00</text>
<text x="0" y="0" transform="translate(23.8 214.6) rotate(-90)" class="ax" text-anchor="middle">36.90</text>
<text x="0" y="0" transform="translate(23.8 392.6) rotate(-90)" class="ax" text-anchor="middle">36.80</text>
<text x="0" y="0" transform="translate(23.8 574.8) rotate(-90)" class="ax" text-anchor="middle">37.00</text>
<text x="0" y="0" transform="translate(23.8 752.9) rotate(-90)" class="ax" text-anchor="middle">36.90</text>
<text x="0" y="0" transform="translate(23.8 930.9) rotate(-90)" class="ax" text-anchor="middle">36.80</text>
<text x="209.5" y="1100.3" class="ax" text-anchor="middle">-6.40</text>
<text x="387.6" y="1100.3" class="ax" text-anchor="middle">-6.30</text>
<text x="565.7" y="1100.3" class="ax" text-anchor="middle">-6.20</text>
<text x="857.7" y="1100.3" class="ax" text-anchor="middle">-6.40</text>
<text x="1035.8" y="1100.3" class="ax" text-anchor="middle">-6.30</text>
<text x="1213.9" y="1100.3" class="ax" text-anchor="middle">-6.20</text>
<text x="593" y="493" class="pl" text-anchor="middle">A</text>
<text x="1244.5" y="492.8" class="pl" text-anchor="middle">B</text>
<text x="593.5" y="1024.2" class="pl" text-anchor="middle">C</text>
<text x="1247" y="1024.4" class="pl" text-anchor="middle">D</text>
<linearGradient id="cb" x1="0" x2="1" y1="0" y2="0"><stop offset="0.0" stop-color="#2a2f88"/><stop offset="0.06" stop-color="#2b3590"/><stop offset="0.13" stop-color="#2f4a98"/><stop offset="0.19" stop-color="#3f6ca4"/><stop offset="0.24" stop-color="#5590ae"/><stop offset="0.28" stop-color="#64b4b4"/><stop offset="0.33" stop-color="#80c2b8"/><stop offset="0.4" stop-color="#b4d8b4"/><stop offset="0.46" stop-color="#dceab0"/><stop offset="0.5" stop-color="#f3f3b0"/><stop offset="0.56" stop-color="#e6e69c"/><stop offset="0.63" stop-color="#d2d274"/><stop offset="0.72" stop-color="#b2b43e"/><stop offset="0.8" stop-color="#b0903a"/><stop offset="0.87" stop-color="#b06c30"/><stop offset="0.93" stop-color="#b04e2a"/><stop offset="1.0" stop-color="#b04428"/></linearGradient>
<rect x="323.3" y="1143.3" width="761.5" height="59.5" fill="url(#cb)" stroke="#111" stroke-width="2.2"/>
<path d="M369.2 1190.5L380.5 1212.7H357.9Z" fill="#2d3d9a" stroke="#b0b0b0" stroke-width="3" stroke-linejoin="miter"/>
<path d="M536.7 1190.5L548 1212.7H525.4Z" fill="#62b5b2" stroke="#111" stroke-width="3" stroke-linejoin="miter"/>
<path d="M704.2 1190.5L715.5 1212.7H692.9Z" fill="#eeee9c" stroke="#111" stroke-width="3" stroke-linejoin="miter"/>
<path d="M871.7 1190.5L883 1212.7H860.4Z" fill="#b2b43c" stroke="#111" stroke-width="3" stroke-linejoin="miter"/>
<path d="M1039 1190.5L1050.3 1212.7H1027.7Z" fill="#c0502c" stroke="#b0b0b0" stroke-width="3" stroke-linejoin="miter"/>
<text x="367.9" y="1265.6" class="cbt" text-anchor="middle">0</text>
<text x="535.4" y="1265.6" class="cbt" text-anchor="middle">100</text>
<text x="702.9" y="1265.6" class="cbt" text-anchor="middle">200</text>
<text x="870.4" y="1265.6" class="cbt" text-anchor="middle">300</text>
<text x="1037.7" y="1265.6" class="cbt" text-anchor="middle">400</text>
<text x="705.4" y="1324.8" class="cbt" style="font-size:39.2px" text-anchor="middle">Turbidity (FNU)</text>
</svg>
</body></html>
